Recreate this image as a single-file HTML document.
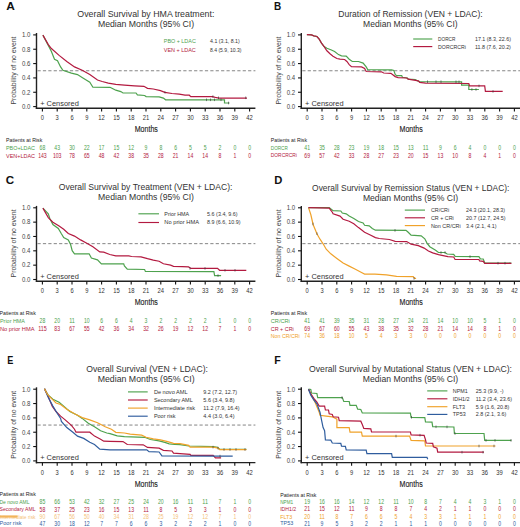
<!DOCTYPE html>
<html><head><meta charset="utf-8"><style>
html,body{margin:0;padding:0;background:#fff;width:520px;height:527px;overflow:hidden}
svg{display:block}
text{font-family:"Liberation Sans", sans-serif}
</style></head><body>
<svg width="520" height="527" viewBox="0 0 520 527">
<rect width="520" height="527" fill="#fff"/>
<text x="6.30" y="9.80" font-size="11.2" fill="#111" textLength="8.60" lengthAdjust="spacingAndGlyphs" font-weight="bold">A</text>
<text x="77.30" y="17.00" font-size="8.8" fill="#333333" textLength="137.10" lengthAdjust="spacingAndGlyphs">Overall Survival by HMA treatment:</text>
<text x="97.90" y="26.70" font-size="8.8" fill="#333333" textLength="96.30" lengthAdjust="spacingAndGlyphs">Median Months (95% CI)</text>
<line x1="36.50" y1="33.00" x2="36.50" y2="109.00" stroke="#222" stroke-width="1.4"/>
<line x1="35.80" y1="108.30" x2="255.40" y2="108.30" stroke="#222" stroke-width="1.4"/>
<line x1="33.20" y1="106.60" x2="36.50" y2="106.60" stroke="#111" stroke-width="1.1"/>
<text x="30.30" y="108.90" font-size="6.3" fill="#444" text-anchor="end" textLength="8.40" lengthAdjust="spacingAndGlyphs">0.0</text>
<line x1="33.20" y1="92.26" x2="36.50" y2="92.26" stroke="#111" stroke-width="1.1"/>
<text x="30.30" y="94.56" font-size="6.3" fill="#444" text-anchor="end" textLength="8.40" lengthAdjust="spacingAndGlyphs">0.2</text>
<line x1="33.20" y1="77.92" x2="36.50" y2="77.92" stroke="#111" stroke-width="1.1"/>
<text x="30.30" y="80.22" font-size="6.3" fill="#444" text-anchor="end" textLength="8.40" lengthAdjust="spacingAndGlyphs">0.4</text>
<line x1="33.20" y1="63.58" x2="36.50" y2="63.58" stroke="#111" stroke-width="1.1"/>
<text x="30.30" y="65.88" font-size="6.3" fill="#444" text-anchor="end" textLength="8.40" lengthAdjust="spacingAndGlyphs">0.6</text>
<line x1="33.20" y1="49.24" x2="36.50" y2="49.24" stroke="#111" stroke-width="1.1"/>
<text x="30.30" y="51.54" font-size="6.3" fill="#444" text-anchor="end" textLength="8.40" lengthAdjust="spacingAndGlyphs">0.8</text>
<line x1="33.20" y1="34.90" x2="36.50" y2="34.90" stroke="#111" stroke-width="1.1"/>
<text x="30.30" y="37.20" font-size="6.3" fill="#444" text-anchor="end" textLength="8.40" lengthAdjust="spacingAndGlyphs">1.0</text>
<line x1="42.40" y1="108.30" x2="42.40" y2="111.50" stroke="#111" stroke-width="1.1"/>
<text x="42.40" y="120.20" font-size="6.3" fill="#333" text-anchor="middle" textLength="3.20" lengthAdjust="spacingAndGlyphs">0</text>
<line x1="57.20" y1="108.30" x2="57.20" y2="111.50" stroke="#111" stroke-width="1.1"/>
<text x="57.20" y="120.20" font-size="6.3" fill="#333" text-anchor="middle" textLength="3.20" lengthAdjust="spacingAndGlyphs">3</text>
<line x1="72.00" y1="108.30" x2="72.00" y2="111.50" stroke="#111" stroke-width="1.1"/>
<text x="72.00" y="120.20" font-size="6.3" fill="#333" text-anchor="middle" textLength="3.20" lengthAdjust="spacingAndGlyphs">6</text>
<line x1="86.80" y1="108.30" x2="86.80" y2="111.50" stroke="#111" stroke-width="1.1"/>
<text x="86.80" y="120.20" font-size="6.3" fill="#333" text-anchor="middle" textLength="3.20" lengthAdjust="spacingAndGlyphs">9</text>
<line x1="101.60" y1="108.30" x2="101.60" y2="111.50" stroke="#111" stroke-width="1.1"/>
<text x="101.60" y="120.20" font-size="6.3" fill="#333" text-anchor="middle" textLength="6.50" lengthAdjust="spacingAndGlyphs">12</text>
<line x1="116.40" y1="108.30" x2="116.40" y2="111.50" stroke="#111" stroke-width="1.1"/>
<text x="116.40" y="120.20" font-size="6.3" fill="#333" text-anchor="middle" textLength="6.50" lengthAdjust="spacingAndGlyphs">15</text>
<line x1="131.20" y1="108.30" x2="131.20" y2="111.50" stroke="#111" stroke-width="1.1"/>
<text x="131.20" y="120.20" font-size="6.3" fill="#333" text-anchor="middle" textLength="6.50" lengthAdjust="spacingAndGlyphs">18</text>
<line x1="146.00" y1="108.30" x2="146.00" y2="111.50" stroke="#111" stroke-width="1.1"/>
<text x="146.00" y="120.20" font-size="6.3" fill="#333" text-anchor="middle" textLength="6.50" lengthAdjust="spacingAndGlyphs">21</text>
<line x1="160.80" y1="108.30" x2="160.80" y2="111.50" stroke="#111" stroke-width="1.1"/>
<text x="160.80" y="120.20" font-size="6.3" fill="#333" text-anchor="middle" textLength="6.50" lengthAdjust="spacingAndGlyphs">24</text>
<line x1="175.60" y1="108.30" x2="175.60" y2="111.50" stroke="#111" stroke-width="1.1"/>
<text x="175.60" y="120.20" font-size="6.3" fill="#333" text-anchor="middle" textLength="6.50" lengthAdjust="spacingAndGlyphs">27</text>
<line x1="190.40" y1="108.30" x2="190.40" y2="111.50" stroke="#111" stroke-width="1.1"/>
<text x="190.40" y="120.20" font-size="6.3" fill="#333" text-anchor="middle" textLength="6.50" lengthAdjust="spacingAndGlyphs">30</text>
<line x1="205.20" y1="108.30" x2="205.20" y2="111.50" stroke="#111" stroke-width="1.1"/>
<text x="205.20" y="120.20" font-size="6.3" fill="#333" text-anchor="middle" textLength="6.50" lengthAdjust="spacingAndGlyphs">33</text>
<line x1="220.00" y1="108.30" x2="220.00" y2="111.50" stroke="#111" stroke-width="1.1"/>
<text x="220.00" y="120.20" font-size="6.3" fill="#333" text-anchor="middle" textLength="6.50" lengthAdjust="spacingAndGlyphs">36</text>
<line x1="234.80" y1="108.30" x2="234.80" y2="111.50" stroke="#111" stroke-width="1.1"/>
<text x="234.80" y="120.20" font-size="6.3" fill="#333" text-anchor="middle" textLength="6.50" lengthAdjust="spacingAndGlyphs">39</text>
<line x1="249.60" y1="108.30" x2="249.60" y2="111.50" stroke="#111" stroke-width="1.1"/>
<text x="249.60" y="120.20" font-size="6.3" fill="#333" text-anchor="middle" textLength="6.50" lengthAdjust="spacingAndGlyphs">42</text>
<line x1="37.50" y1="70.75" x2="255.40" y2="70.75" stroke="#777" stroke-width="0.9" stroke-dasharray="3.2,2.2"/>
<text x="16.00" y="70.50" font-size="6.9" fill="#444" text-anchor="middle" textLength="68.00" lengthAdjust="spacingAndGlyphs" transform="rotate(-90 16.00 70.50)">Probability of no event</text>
<text x="146.30" y="132.30" font-size="8.4" fill="#222" text-anchor="middle" textLength="23.20" lengthAdjust="spacingAndGlyphs" stroke="#222" stroke-width="0.12">Months</text>
<text x="40.20" y="105.90" font-size="7.4" fill="#333" textLength="38.60" lengthAdjust="spacingAndGlyphs">+ Censored</text>
<text x="163.80" y="43.40" font-size="5.4" fill="#4ea24e" textLength="32.00" lengthAdjust="spacingAndGlyphs">PBO + LDAC</text>
<text x="210.00" y="43.40" font-size="5.4" fill="#333333" textLength="29.80" lengthAdjust="spacingAndGlyphs">4.1 (3.1, 8.1)</text>
<text x="163.80" y="51.60" font-size="5.4" fill="#b31a40" textLength="32.00" lengthAdjust="spacingAndGlyphs">VEN + LDAC</text>
<text x="210.00" y="51.60" font-size="5.4" fill="#333333" textLength="31.50" lengthAdjust="spacingAndGlyphs">8.4 (5.9, 10.3)</text>
<polyline points="42.90,35.10 48.30,45.40 51.40,51.50 54.50,59.20 57.50,60.80 60.60,66.90 62.90,70.30 71.40,73.10 77.50,74.60 83.70,78.50 89.80,82.30 92.90,87.20 110.00,87.30 112.90,88.70 115.80,90.20 120.80,91.60 123.00,93.00 136.00,93.00 137.40,94.90 144.60,95.50 146.10,96.60 159.10,96.90 163.40,98.10 165.60,99.80 224.50,99.80 224.50,103.00 229.50,103.00" fill="none" stroke="#4ea24e" stroke-width="1.2" stroke-linejoin="miter"/>
<polyline points="42.90,35.10 48.30,44.60 51.40,48.50 59.10,55.40 66.80,61.50 74.50,66.90 82.20,70.30 89.80,74.60 97.50,80.00 102.20,81.50 108.30,83.10 115.80,84.40 124.40,85.10 134.50,85.80 143.90,86.30 147.50,88.30 153.30,89.00 160.50,90.60 164.80,92.30 172.00,93.50 179.30,94.20 185.00,95.20 189.30,95.20 190.80,96.60 212.40,96.60 215.30,97.40 218.90,98.10 247.00,98.10" fill="none" stroke="#b31a40" stroke-width="1.2" stroke-linejoin="miter"/>
<line x1="165.00" y1="91.00" x2="165.00" y2="93.60" stroke="#333" stroke-width="0.8" stroke-opacity="0.75"/>
<line x1="212.90" y1="95.30" x2="212.90" y2="97.90" stroke="#333" stroke-width="0.8" stroke-opacity="0.75"/>
<line x1="218.50" y1="96.50" x2="218.50" y2="99.10" stroke="#333" stroke-width="0.8" stroke-opacity="0.75"/>
<line x1="245.70" y1="96.50" x2="245.70" y2="99.10" stroke="#333" stroke-width="0.8" stroke-opacity="0.75"/>
<line x1="206.50" y1="98.50" x2="206.50" y2="101.10" stroke="#333" stroke-width="0.8" stroke-opacity="0.75"/>
<line x1="210.50" y1="98.50" x2="210.50" y2="101.10" stroke="#333" stroke-width="0.8" stroke-opacity="0.75"/>
<line x1="214.50" y1="98.50" x2="214.50" y2="101.10" stroke="#333" stroke-width="0.8" stroke-opacity="0.75"/>
<line x1="221.00" y1="98.50" x2="221.00" y2="101.10" stroke="#333" stroke-width="0.8" stroke-opacity="0.75"/>
<line x1="228.50" y1="101.70" x2="228.50" y2="104.30" stroke="#333" stroke-width="0.8" stroke-opacity="0.75"/>
<text x="6.00" y="142.00" font-size="5.6" fill="#222" textLength="36.30" lengthAdjust="spacingAndGlyphs">Patients at Risk</text>
<text x="6.00" y="150.00" font-size="5.5" fill="#4ea24e" textLength="29.00" lengthAdjust="spacingAndGlyphs">PBO+LDAC</text>
<text x="42.40" y="150.20" font-size="6.3" fill="#4ea24e" text-anchor="middle" textLength="5.70" lengthAdjust="spacingAndGlyphs">68</text>
<text x="57.20" y="150.20" font-size="6.3" fill="#4ea24e" text-anchor="middle" textLength="5.70" lengthAdjust="spacingAndGlyphs">43</text>
<text x="72.00" y="150.20" font-size="6.3" fill="#4ea24e" text-anchor="middle" textLength="5.70" lengthAdjust="spacingAndGlyphs">30</text>
<text x="86.80" y="150.20" font-size="6.3" fill="#4ea24e" text-anchor="middle" textLength="5.70" lengthAdjust="spacingAndGlyphs">22</text>
<text x="101.60" y="150.20" font-size="6.3" fill="#4ea24e" text-anchor="middle" textLength="5.70" lengthAdjust="spacingAndGlyphs">17</text>
<text x="116.40" y="150.20" font-size="6.3" fill="#4ea24e" text-anchor="middle" textLength="5.70" lengthAdjust="spacingAndGlyphs">15</text>
<text x="131.20" y="150.20" font-size="6.3" fill="#4ea24e" text-anchor="middle" textLength="5.70" lengthAdjust="spacingAndGlyphs">12</text>
<text x="146.00" y="150.20" font-size="6.3" fill="#4ea24e" text-anchor="middle" textLength="2.85" lengthAdjust="spacingAndGlyphs">9</text>
<text x="160.80" y="150.20" font-size="6.3" fill="#4ea24e" text-anchor="middle" textLength="2.85" lengthAdjust="spacingAndGlyphs">8</text>
<text x="175.60" y="150.20" font-size="6.3" fill="#4ea24e" text-anchor="middle" textLength="2.85" lengthAdjust="spacingAndGlyphs">6</text>
<text x="190.40" y="150.20" font-size="6.3" fill="#4ea24e" text-anchor="middle" textLength="2.85" lengthAdjust="spacingAndGlyphs">5</text>
<text x="205.20" y="150.20" font-size="6.3" fill="#4ea24e" text-anchor="middle" textLength="2.85" lengthAdjust="spacingAndGlyphs">5</text>
<text x="220.00" y="150.20" font-size="6.3" fill="#4ea24e" text-anchor="middle" textLength="2.85" lengthAdjust="spacingAndGlyphs">2</text>
<text x="234.80" y="150.20" font-size="6.3" fill="#4ea24e" text-anchor="middle" textLength="2.85" lengthAdjust="spacingAndGlyphs">0</text>
<text x="249.60" y="150.20" font-size="6.3" fill="#4ea24e" text-anchor="middle" textLength="2.85" lengthAdjust="spacingAndGlyphs">0</text>
<text x="6.00" y="157.50" font-size="5.5" fill="#b31a40" textLength="29.00" lengthAdjust="spacingAndGlyphs">VEN+LDAC</text>
<text x="42.40" y="157.70" font-size="6.3" fill="#b31a40" text-anchor="middle" textLength="8.55" lengthAdjust="spacingAndGlyphs">143</text>
<text x="57.20" y="157.70" font-size="6.3" fill="#b31a40" text-anchor="middle" textLength="8.55" lengthAdjust="spacingAndGlyphs">103</text>
<text x="72.00" y="157.70" font-size="6.3" fill="#b31a40" text-anchor="middle" textLength="5.70" lengthAdjust="spacingAndGlyphs">78</text>
<text x="86.80" y="157.70" font-size="6.3" fill="#b31a40" text-anchor="middle" textLength="5.70" lengthAdjust="spacingAndGlyphs">65</text>
<text x="101.60" y="157.70" font-size="6.3" fill="#b31a40" text-anchor="middle" textLength="5.70" lengthAdjust="spacingAndGlyphs">48</text>
<text x="116.40" y="157.70" font-size="6.3" fill="#b31a40" text-anchor="middle" textLength="5.70" lengthAdjust="spacingAndGlyphs">42</text>
<text x="131.20" y="157.70" font-size="6.3" fill="#b31a40" text-anchor="middle" textLength="5.70" lengthAdjust="spacingAndGlyphs">38</text>
<text x="146.00" y="157.70" font-size="6.3" fill="#b31a40" text-anchor="middle" textLength="5.70" lengthAdjust="spacingAndGlyphs">35</text>
<text x="160.80" y="157.70" font-size="6.3" fill="#b31a40" text-anchor="middle" textLength="5.70" lengthAdjust="spacingAndGlyphs">28</text>
<text x="175.60" y="157.70" font-size="6.3" fill="#b31a40" text-anchor="middle" textLength="5.70" lengthAdjust="spacingAndGlyphs">21</text>
<text x="190.40" y="157.70" font-size="6.3" fill="#b31a40" text-anchor="middle" textLength="5.70" lengthAdjust="spacingAndGlyphs">14</text>
<text x="205.20" y="157.70" font-size="6.3" fill="#b31a40" text-anchor="middle" textLength="5.70" lengthAdjust="spacingAndGlyphs">14</text>
<text x="220.00" y="157.70" font-size="6.3" fill="#b31a40" text-anchor="middle" textLength="2.85" lengthAdjust="spacingAndGlyphs">8</text>
<text x="234.80" y="157.70" font-size="6.3" fill="#b31a40" text-anchor="middle" textLength="2.85" lengthAdjust="spacingAndGlyphs">1</text>
<text x="249.60" y="157.70" font-size="6.3" fill="#b31a40" text-anchor="middle" textLength="2.85" lengthAdjust="spacingAndGlyphs">0</text>
<text x="274.10" y="9.80" font-size="11.2" fill="#111" textLength="7.20" lengthAdjust="spacingAndGlyphs" font-weight="bold">B</text>
<text x="338.30" y="17.30" font-size="8.8" fill="#333333" textLength="144.40" lengthAdjust="spacingAndGlyphs">Duration of Remission (VEN + LDAC):</text>
<text x="363.10" y="27.10" font-size="8.8" fill="#333333" textLength="94.60" lengthAdjust="spacingAndGlyphs">Median Months (95% CI)</text>
<line x1="301.30" y1="33.00" x2="301.30" y2="109.00" stroke="#222" stroke-width="1.4"/>
<line x1="300.60" y1="108.30" x2="520.00" y2="108.30" stroke="#222" stroke-width="1.4"/>
<line x1="298.00" y1="106.60" x2="301.30" y2="106.60" stroke="#111" stroke-width="1.1"/>
<text x="295.10" y="108.90" font-size="6.3" fill="#444" text-anchor="end" textLength="8.40" lengthAdjust="spacingAndGlyphs">0.0</text>
<line x1="298.00" y1="92.26" x2="301.30" y2="92.26" stroke="#111" stroke-width="1.1"/>
<text x="295.10" y="94.56" font-size="6.3" fill="#444" text-anchor="end" textLength="8.40" lengthAdjust="spacingAndGlyphs">0.2</text>
<line x1="298.00" y1="77.92" x2="301.30" y2="77.92" stroke="#111" stroke-width="1.1"/>
<text x="295.10" y="80.22" font-size="6.3" fill="#444" text-anchor="end" textLength="8.40" lengthAdjust="spacingAndGlyphs">0.4</text>
<line x1="298.00" y1="63.58" x2="301.30" y2="63.58" stroke="#111" stroke-width="1.1"/>
<text x="295.10" y="65.88" font-size="6.3" fill="#444" text-anchor="end" textLength="8.40" lengthAdjust="spacingAndGlyphs">0.6</text>
<line x1="298.00" y1="49.24" x2="301.30" y2="49.24" stroke="#111" stroke-width="1.1"/>
<text x="295.10" y="51.54" font-size="6.3" fill="#444" text-anchor="end" textLength="8.40" lengthAdjust="spacingAndGlyphs">0.8</text>
<line x1="298.00" y1="34.90" x2="301.30" y2="34.90" stroke="#111" stroke-width="1.1"/>
<text x="295.10" y="37.20" font-size="6.3" fill="#444" text-anchor="end" textLength="8.40" lengthAdjust="spacingAndGlyphs">1.0</text>
<line x1="307.20" y1="108.30" x2="307.20" y2="111.50" stroke="#111" stroke-width="1.1"/>
<text x="307.20" y="120.20" font-size="6.3" fill="#333" text-anchor="middle" textLength="3.20" lengthAdjust="spacingAndGlyphs">0</text>
<line x1="322.00" y1="108.30" x2="322.00" y2="111.50" stroke="#111" stroke-width="1.1"/>
<text x="322.00" y="120.20" font-size="6.3" fill="#333" text-anchor="middle" textLength="3.20" lengthAdjust="spacingAndGlyphs">3</text>
<line x1="336.80" y1="108.30" x2="336.80" y2="111.50" stroke="#111" stroke-width="1.1"/>
<text x="336.80" y="120.20" font-size="6.3" fill="#333" text-anchor="middle" textLength="3.20" lengthAdjust="spacingAndGlyphs">6</text>
<line x1="351.60" y1="108.30" x2="351.60" y2="111.50" stroke="#111" stroke-width="1.1"/>
<text x="351.60" y="120.20" font-size="6.3" fill="#333" text-anchor="middle" textLength="3.20" lengthAdjust="spacingAndGlyphs">9</text>
<line x1="366.40" y1="108.30" x2="366.40" y2="111.50" stroke="#111" stroke-width="1.1"/>
<text x="366.40" y="120.20" font-size="6.3" fill="#333" text-anchor="middle" textLength="6.50" lengthAdjust="spacingAndGlyphs">12</text>
<line x1="381.20" y1="108.30" x2="381.20" y2="111.50" stroke="#111" stroke-width="1.1"/>
<text x="381.20" y="120.20" font-size="6.3" fill="#333" text-anchor="middle" textLength="6.50" lengthAdjust="spacingAndGlyphs">15</text>
<line x1="396.00" y1="108.30" x2="396.00" y2="111.50" stroke="#111" stroke-width="1.1"/>
<text x="396.00" y="120.20" font-size="6.3" fill="#333" text-anchor="middle" textLength="6.50" lengthAdjust="spacingAndGlyphs">18</text>
<line x1="410.80" y1="108.30" x2="410.80" y2="111.50" stroke="#111" stroke-width="1.1"/>
<text x="410.80" y="120.20" font-size="6.3" fill="#333" text-anchor="middle" textLength="6.50" lengthAdjust="spacingAndGlyphs">21</text>
<line x1="425.60" y1="108.30" x2="425.60" y2="111.50" stroke="#111" stroke-width="1.1"/>
<text x="425.60" y="120.20" font-size="6.3" fill="#333" text-anchor="middle" textLength="6.50" lengthAdjust="spacingAndGlyphs">24</text>
<line x1="440.40" y1="108.30" x2="440.40" y2="111.50" stroke="#111" stroke-width="1.1"/>
<text x="440.40" y="120.20" font-size="6.3" fill="#333" text-anchor="middle" textLength="6.50" lengthAdjust="spacingAndGlyphs">27</text>
<line x1="455.20" y1="108.30" x2="455.20" y2="111.50" stroke="#111" stroke-width="1.1"/>
<text x="455.20" y="120.20" font-size="6.3" fill="#333" text-anchor="middle" textLength="6.50" lengthAdjust="spacingAndGlyphs">30</text>
<line x1="470.00" y1="108.30" x2="470.00" y2="111.50" stroke="#111" stroke-width="1.1"/>
<text x="470.00" y="120.20" font-size="6.3" fill="#333" text-anchor="middle" textLength="6.50" lengthAdjust="spacingAndGlyphs">33</text>
<line x1="484.80" y1="108.30" x2="484.80" y2="111.50" stroke="#111" stroke-width="1.1"/>
<text x="484.80" y="120.20" font-size="6.3" fill="#333" text-anchor="middle" textLength="6.50" lengthAdjust="spacingAndGlyphs">36</text>
<line x1="499.60" y1="108.30" x2="499.60" y2="111.50" stroke="#111" stroke-width="1.1"/>
<text x="499.60" y="120.20" font-size="6.3" fill="#333" text-anchor="middle" textLength="6.50" lengthAdjust="spacingAndGlyphs">39</text>
<line x1="514.40" y1="108.30" x2="514.40" y2="111.50" stroke="#111" stroke-width="1.1"/>
<text x="514.40" y="120.20" font-size="6.3" fill="#333" text-anchor="middle" textLength="6.50" lengthAdjust="spacingAndGlyphs">42</text>
<line x1="302.30" y1="70.75" x2="520.00" y2="70.75" stroke="#777" stroke-width="0.9" stroke-dasharray="3.2,2.2"/>
<text x="280.80" y="70.50" font-size="6.9" fill="#444" text-anchor="middle" textLength="68.00" lengthAdjust="spacingAndGlyphs" transform="rotate(-90 280.80 70.50)">Probability of no event</text>
<text x="411.10" y="132.30" font-size="8.4" fill="#222" text-anchor="middle" textLength="23.20" lengthAdjust="spacingAndGlyphs" stroke="#222" stroke-width="0.12">Months</text>
<text x="305.00" y="105.90" font-size="7.4" fill="#333" textLength="38.60" lengthAdjust="spacingAndGlyphs">+ Censored</text>
<line x1="413.20" y1="39.00" x2="432.30" y2="39.00" stroke="#4ea24e" stroke-width="1.15"/>
<text x="438.10" y="40.90" font-size="5.4" fill="#333333" textLength="17.30" lengthAdjust="spacingAndGlyphs">DORCR</text>
<text x="475.00" y="40.90" font-size="5.4" fill="#333333" textLength="35.90" lengthAdjust="spacingAndGlyphs">17.1 (8.3, 22.6)</text>
<line x1="413.20" y1="46.60" x2="432.30" y2="46.60" stroke="#b31a40" stroke-width="1.15"/>
<text x="438.10" y="48.50" font-size="5.4" fill="#333333" textLength="27.70" lengthAdjust="spacingAndGlyphs">DORCRCRi</text>
<text x="475.00" y="48.50" font-size="5.4" fill="#333333" textLength="35.90" lengthAdjust="spacingAndGlyphs">11.8 (7.6, 20.2)</text>
<polyline points="306.90,34.60 311.50,34.90 313.80,35.80 316.90,36.50 319.20,39.20 321.50,43.10 323.80,46.20 326.90,48.20 330.80,49.70 334.60,51.50 338.50,54.60 341.50,55.80 346.20,56.20 349.20,59.20 352.30,61.50 358.50,61.50 363.10,63.10 366.20,66.90 367.70,69.60 391.60,69.80 393.80,70.40 395.20,74.40 396.60,75.60 401.70,75.60 402.40,77.30 407.50,78.00 408.20,79.20 415.40,79.50 417.60,80.90 419.70,81.60 461.60,81.80 461.60,85.20 468.80,85.20 468.80,89.50 478.90,89.50" fill="none" stroke="#4ea24e" stroke-width="1.2" stroke-linejoin="miter"/>
<polyline points="306.90,34.60 311.50,34.90 313.80,35.80 316.90,36.50 319.20,39.20 321.50,43.10 323.80,46.20 326.90,50.80 330.00,53.80 333.00,56.20 336.90,58.50 340.00,59.20 344.60,59.50 346.90,61.50 349.20,64.60 351.50,66.60 361.50,66.90 364.60,68.50 366.20,71.50 381.50,71.80 383.70,73.00 390.90,73.30 395.20,76.60 398.10,77.60 406.70,78.00 408.20,79.20 414.00,80.20 418.30,80.90 419.70,82.40 425.50,83.10 468.80,83.50 469.50,85.90 484.70,85.90 485.40,91.40 502.70,91.40" fill="none" stroke="#b31a40" stroke-width="1.2" stroke-linejoin="miter"/>
<line x1="427.50" y1="80.40" x2="427.50" y2="83.00" stroke="#333" stroke-width="0.8" stroke-opacity="0.75"/>
<line x1="436.00" y1="80.40" x2="436.00" y2="83.00" stroke="#333" stroke-width="0.8" stroke-opacity="0.75"/>
<line x1="441.00" y1="80.40" x2="441.00" y2="83.00" stroke="#333" stroke-width="0.8" stroke-opacity="0.75"/>
<line x1="456.00" y1="80.50" x2="456.00" y2="83.10" stroke="#333" stroke-width="0.8" stroke-opacity="0.75"/>
<line x1="459.00" y1="80.50" x2="459.00" y2="83.10" stroke="#333" stroke-width="0.8" stroke-opacity="0.75"/>
<line x1="471.90" y1="88.20" x2="471.90" y2="90.80" stroke="#333" stroke-width="0.8" stroke-opacity="0.75"/>
<line x1="476.00" y1="88.20" x2="476.00" y2="90.80" stroke="#333" stroke-width="0.8" stroke-opacity="0.75"/>
<line x1="479.00" y1="84.60" x2="479.00" y2="87.20" stroke="#333" stroke-width="0.8" stroke-opacity="0.75"/>
<line x1="493.00" y1="90.10" x2="493.00" y2="92.70" stroke="#333" stroke-width="0.8" stroke-opacity="0.75"/>
<text x="270.80" y="142.30" font-size="5.6" fill="#222" textLength="36.30" lengthAdjust="spacingAndGlyphs">Patients at Risk</text>
<text x="270.80" y="149.80" font-size="5.5" fill="#4ea24e" textLength="17.00" lengthAdjust="spacingAndGlyphs">DORCR</text>
<text x="307.20" y="150.00" font-size="6.3" fill="#4ea24e" text-anchor="middle" textLength="5.70" lengthAdjust="spacingAndGlyphs">41</text>
<text x="322.00" y="150.00" font-size="6.3" fill="#4ea24e" text-anchor="middle" textLength="5.70" lengthAdjust="spacingAndGlyphs">35</text>
<text x="336.80" y="150.00" font-size="6.3" fill="#4ea24e" text-anchor="middle" textLength="5.70" lengthAdjust="spacingAndGlyphs">28</text>
<text x="351.60" y="150.00" font-size="6.3" fill="#4ea24e" text-anchor="middle" textLength="5.70" lengthAdjust="spacingAndGlyphs">23</text>
<text x="366.40" y="150.00" font-size="6.3" fill="#4ea24e" text-anchor="middle" textLength="5.70" lengthAdjust="spacingAndGlyphs">19</text>
<text x="381.20" y="150.00" font-size="6.3" fill="#4ea24e" text-anchor="middle" textLength="5.70" lengthAdjust="spacingAndGlyphs">18</text>
<text x="396.00" y="150.00" font-size="6.3" fill="#4ea24e" text-anchor="middle" textLength="5.70" lengthAdjust="spacingAndGlyphs">15</text>
<text x="410.80" y="150.00" font-size="6.3" fill="#4ea24e" text-anchor="middle" textLength="5.70" lengthAdjust="spacingAndGlyphs">13</text>
<text x="425.60" y="150.00" font-size="6.3" fill="#4ea24e" text-anchor="middle" textLength="5.70" lengthAdjust="spacingAndGlyphs">11</text>
<text x="440.40" y="150.00" font-size="6.3" fill="#4ea24e" text-anchor="middle" textLength="2.85" lengthAdjust="spacingAndGlyphs">9</text>
<text x="455.20" y="150.00" font-size="6.3" fill="#4ea24e" text-anchor="middle" textLength="2.85" lengthAdjust="spacingAndGlyphs">6</text>
<text x="470.00" y="150.00" font-size="6.3" fill="#4ea24e" text-anchor="middle" textLength="2.85" lengthAdjust="spacingAndGlyphs">4</text>
<text x="484.80" y="150.00" font-size="6.3" fill="#4ea24e" text-anchor="middle" textLength="2.85" lengthAdjust="spacingAndGlyphs">0</text>
<text x="499.60" y="150.00" font-size="6.3" fill="#4ea24e" text-anchor="middle" textLength="2.85" lengthAdjust="spacingAndGlyphs">0</text>
<text x="514.40" y="150.00" font-size="6.3" fill="#4ea24e" text-anchor="middle" textLength="2.85" lengthAdjust="spacingAndGlyphs">0</text>
<text x="270.80" y="157.40" font-size="5.5" fill="#b31a40" textLength="26.00" lengthAdjust="spacingAndGlyphs">DORCRCRi</text>
<text x="307.20" y="157.60" font-size="6.3" fill="#b31a40" text-anchor="middle" textLength="5.70" lengthAdjust="spacingAndGlyphs">69</text>
<text x="322.00" y="157.60" font-size="6.3" fill="#b31a40" text-anchor="middle" textLength="5.70" lengthAdjust="spacingAndGlyphs">57</text>
<text x="336.80" y="157.60" font-size="6.3" fill="#b31a40" text-anchor="middle" textLength="5.70" lengthAdjust="spacingAndGlyphs">42</text>
<text x="351.60" y="157.60" font-size="6.3" fill="#b31a40" text-anchor="middle" textLength="5.70" lengthAdjust="spacingAndGlyphs">33</text>
<text x="366.40" y="157.60" font-size="6.3" fill="#b31a40" text-anchor="middle" textLength="5.70" lengthAdjust="spacingAndGlyphs">28</text>
<text x="381.20" y="157.60" font-size="6.3" fill="#b31a40" text-anchor="middle" textLength="5.70" lengthAdjust="spacingAndGlyphs">27</text>
<text x="396.00" y="157.60" font-size="6.3" fill="#b31a40" text-anchor="middle" textLength="5.70" lengthAdjust="spacingAndGlyphs">23</text>
<text x="410.80" y="157.60" font-size="6.3" fill="#b31a40" text-anchor="middle" textLength="5.70" lengthAdjust="spacingAndGlyphs">20</text>
<text x="425.60" y="157.60" font-size="6.3" fill="#b31a40" text-anchor="middle" textLength="5.70" lengthAdjust="spacingAndGlyphs">15</text>
<text x="440.40" y="157.60" font-size="6.3" fill="#b31a40" text-anchor="middle" textLength="5.70" lengthAdjust="spacingAndGlyphs">13</text>
<text x="455.20" y="157.60" font-size="6.3" fill="#b31a40" text-anchor="middle" textLength="5.70" lengthAdjust="spacingAndGlyphs">10</text>
<text x="470.00" y="157.60" font-size="6.3" fill="#b31a40" text-anchor="middle" textLength="2.85" lengthAdjust="spacingAndGlyphs">8</text>
<text x="484.80" y="157.60" font-size="6.3" fill="#b31a40" text-anchor="middle" textLength="2.85" lengthAdjust="spacingAndGlyphs">4</text>
<text x="499.60" y="157.60" font-size="6.3" fill="#b31a40" text-anchor="middle" textLength="2.85" lengthAdjust="spacingAndGlyphs">1</text>
<text x="514.40" y="157.60" font-size="6.3" fill="#b31a40" text-anchor="middle" textLength="2.85" lengthAdjust="spacingAndGlyphs">0</text>
<text x="5.70" y="184.10" font-size="11.2" fill="#111" textLength="8.40" lengthAdjust="spacingAndGlyphs" font-weight="bold">C</text>
<text x="58.70" y="190.20" font-size="8.8" fill="#333333" textLength="173.80" lengthAdjust="spacingAndGlyphs">Overall Survival by Treatment (VEN + LDAC):</text>
<text x="98.10" y="200.10" font-size="8.8" fill="#333333" textLength="95.90" lengthAdjust="spacingAndGlyphs">Median Months (95% CI)</text>
<line x1="36.50" y1="205.90" x2="36.50" y2="281.90" stroke="#222" stroke-width="1.4"/>
<line x1="35.80" y1="281.20" x2="255.40" y2="281.20" stroke="#222" stroke-width="1.4"/>
<line x1="33.20" y1="279.50" x2="36.50" y2="279.50" stroke="#111" stroke-width="1.1"/>
<text x="30.30" y="281.80" font-size="6.3" fill="#444" text-anchor="end" textLength="8.40" lengthAdjust="spacingAndGlyphs">0.0</text>
<line x1="33.20" y1="265.16" x2="36.50" y2="265.16" stroke="#111" stroke-width="1.1"/>
<text x="30.30" y="267.46" font-size="6.3" fill="#444" text-anchor="end" textLength="8.40" lengthAdjust="spacingAndGlyphs">0.2</text>
<line x1="33.20" y1="250.82" x2="36.50" y2="250.82" stroke="#111" stroke-width="1.1"/>
<text x="30.30" y="253.12" font-size="6.3" fill="#444" text-anchor="end" textLength="8.40" lengthAdjust="spacingAndGlyphs">0.4</text>
<line x1="33.20" y1="236.48" x2="36.50" y2="236.48" stroke="#111" stroke-width="1.1"/>
<text x="30.30" y="238.78" font-size="6.3" fill="#444" text-anchor="end" textLength="8.40" lengthAdjust="spacingAndGlyphs">0.6</text>
<line x1="33.20" y1="222.14" x2="36.50" y2="222.14" stroke="#111" stroke-width="1.1"/>
<text x="30.30" y="224.44" font-size="6.3" fill="#444" text-anchor="end" textLength="8.40" lengthAdjust="spacingAndGlyphs">0.8</text>
<line x1="33.20" y1="207.80" x2="36.50" y2="207.80" stroke="#111" stroke-width="1.1"/>
<text x="30.30" y="210.10" font-size="6.3" fill="#444" text-anchor="end" textLength="8.40" lengthAdjust="spacingAndGlyphs">1.0</text>
<line x1="42.40" y1="281.20" x2="42.40" y2="284.40" stroke="#111" stroke-width="1.1"/>
<text x="42.40" y="293.10" font-size="6.3" fill="#333" text-anchor="middle" textLength="3.20" lengthAdjust="spacingAndGlyphs">0</text>
<line x1="57.20" y1="281.20" x2="57.20" y2="284.40" stroke="#111" stroke-width="1.1"/>
<text x="57.20" y="293.10" font-size="6.3" fill="#333" text-anchor="middle" textLength="3.20" lengthAdjust="spacingAndGlyphs">3</text>
<line x1="72.00" y1="281.20" x2="72.00" y2="284.40" stroke="#111" stroke-width="1.1"/>
<text x="72.00" y="293.10" font-size="6.3" fill="#333" text-anchor="middle" textLength="3.20" lengthAdjust="spacingAndGlyphs">6</text>
<line x1="86.80" y1="281.20" x2="86.80" y2="284.40" stroke="#111" stroke-width="1.1"/>
<text x="86.80" y="293.10" font-size="6.3" fill="#333" text-anchor="middle" textLength="3.20" lengthAdjust="spacingAndGlyphs">9</text>
<line x1="101.60" y1="281.20" x2="101.60" y2="284.40" stroke="#111" stroke-width="1.1"/>
<text x="101.60" y="293.10" font-size="6.3" fill="#333" text-anchor="middle" textLength="6.50" lengthAdjust="spacingAndGlyphs">12</text>
<line x1="116.40" y1="281.20" x2="116.40" y2="284.40" stroke="#111" stroke-width="1.1"/>
<text x="116.40" y="293.10" font-size="6.3" fill="#333" text-anchor="middle" textLength="6.50" lengthAdjust="spacingAndGlyphs">15</text>
<line x1="131.20" y1="281.20" x2="131.20" y2="284.40" stroke="#111" stroke-width="1.1"/>
<text x="131.20" y="293.10" font-size="6.3" fill="#333" text-anchor="middle" textLength="6.50" lengthAdjust="spacingAndGlyphs">18</text>
<line x1="146.00" y1="281.20" x2="146.00" y2="284.40" stroke="#111" stroke-width="1.1"/>
<text x="146.00" y="293.10" font-size="6.3" fill="#333" text-anchor="middle" textLength="6.50" lengthAdjust="spacingAndGlyphs">21</text>
<line x1="160.80" y1="281.20" x2="160.80" y2="284.40" stroke="#111" stroke-width="1.1"/>
<text x="160.80" y="293.10" font-size="6.3" fill="#333" text-anchor="middle" textLength="6.50" lengthAdjust="spacingAndGlyphs">24</text>
<line x1="175.60" y1="281.20" x2="175.60" y2="284.40" stroke="#111" stroke-width="1.1"/>
<text x="175.60" y="293.10" font-size="6.3" fill="#333" text-anchor="middle" textLength="6.50" lengthAdjust="spacingAndGlyphs">27</text>
<line x1="190.40" y1="281.20" x2="190.40" y2="284.40" stroke="#111" stroke-width="1.1"/>
<text x="190.40" y="293.10" font-size="6.3" fill="#333" text-anchor="middle" textLength="6.50" lengthAdjust="spacingAndGlyphs">30</text>
<line x1="205.20" y1="281.20" x2="205.20" y2="284.40" stroke="#111" stroke-width="1.1"/>
<text x="205.20" y="293.10" font-size="6.3" fill="#333" text-anchor="middle" textLength="6.50" lengthAdjust="spacingAndGlyphs">33</text>
<line x1="220.00" y1="281.20" x2="220.00" y2="284.40" stroke="#111" stroke-width="1.1"/>
<text x="220.00" y="293.10" font-size="6.3" fill="#333" text-anchor="middle" textLength="6.50" lengthAdjust="spacingAndGlyphs">36</text>
<line x1="234.80" y1="281.20" x2="234.80" y2="284.40" stroke="#111" stroke-width="1.1"/>
<text x="234.80" y="293.10" font-size="6.3" fill="#333" text-anchor="middle" textLength="6.50" lengthAdjust="spacingAndGlyphs">39</text>
<line x1="249.60" y1="281.20" x2="249.60" y2="284.40" stroke="#111" stroke-width="1.1"/>
<text x="249.60" y="293.10" font-size="6.3" fill="#333" text-anchor="middle" textLength="6.50" lengthAdjust="spacingAndGlyphs">42</text>
<line x1="37.50" y1="243.65" x2="255.40" y2="243.65" stroke="#777" stroke-width="0.9" stroke-dasharray="3.2,2.2"/>
<text x="16.00" y="243.40" font-size="6.9" fill="#444" text-anchor="middle" textLength="68.00" lengthAdjust="spacingAndGlyphs" transform="rotate(-90 16.00 243.40)">Probability of no event</text>
<text x="146.30" y="305.20" font-size="8.4" fill="#222" text-anchor="middle" textLength="23.20" lengthAdjust="spacingAndGlyphs" stroke="#222" stroke-width="0.12">Months</text>
<text x="40.20" y="278.80" font-size="7.4" fill="#333" textLength="38.60" lengthAdjust="spacingAndGlyphs">+ Censored</text>
<line x1="138.40" y1="213.80" x2="159.00" y2="213.80" stroke="#4ea24e" stroke-width="1.15"/>
<text x="164.30" y="215.70" font-size="5.4" fill="#333333">Prior HMA</text>
<text x="207.10" y="215.70" font-size="5.4" fill="#333333">5.6 (3.4, 9.6)</text>
<line x1="138.40" y1="222.50" x2="159.00" y2="222.50" stroke="#b31a40" stroke-width="1.15"/>
<text x="164.30" y="224.40" font-size="5.4" fill="#333333" textLength="34.70" lengthAdjust="spacingAndGlyphs">No prior HMA</text>
<text x="207.10" y="224.40" font-size="5.4" fill="#333333" textLength="33.40" lengthAdjust="spacingAndGlyphs">8.9 (6.6, 10.9)</text>
<polyline points="42.90,208.10 48.30,213.80 49.80,218.40 52.90,224.50 58.30,228.40 61.40,233.80 63.70,237.60 68.30,239.90 70.60,244.50 72.20,250.70 74.50,253.80 89.10,253.80 91.40,258.10 97.50,259.90 101.40,263.80 123.70,263.80 124.40,265.90 127.30,269.20 144.60,269.50 145.40,271.40 213.90,271.70 214.60,275.60 221.10,275.60" fill="none" stroke="#4ea24e" stroke-width="1.2" stroke-linejoin="miter"/>
<polyline points="42.90,208.10 48.30,217.60 52.90,222.20 59.10,226.10 63.70,229.20 68.30,233.50 74.50,236.10 80.60,239.90 86.80,243.30 92.90,246.80 99.80,251.90 103.70,252.20 109.80,254.50 115.80,255.80 128.80,255.80 131.60,256.50 141.00,256.80 147.50,258.70 153.30,260.20 159.10,261.20 163.40,263.80 170.60,265.20 173.50,266.40 182.20,266.60 188.60,266.90 190.80,268.40 217.50,268.40 219.60,270.30 246.30,270.30" fill="none" stroke="#b31a40" stroke-width="1.2" stroke-linejoin="miter"/>
<line x1="190.00" y1="267.10" x2="190.00" y2="269.70" stroke="#333" stroke-width="0.8" stroke-opacity="0.75"/>
<line x1="205.00" y1="267.10" x2="205.00" y2="269.70" stroke="#333" stroke-width="0.8" stroke-opacity="0.75"/>
<line x1="225.00" y1="269.00" x2="225.00" y2="271.60" stroke="#333" stroke-width="0.8" stroke-opacity="0.75"/>
<line x1="235.00" y1="269.00" x2="235.00" y2="271.60" stroke="#333" stroke-width="0.8" stroke-opacity="0.75"/>
<line x1="218.00" y1="274.30" x2="218.00" y2="276.90" stroke="#333" stroke-width="0.8" stroke-opacity="0.75"/>
<text x="-0.50" y="315.30" font-size="5.6" fill="#222" textLength="36.30" lengthAdjust="spacingAndGlyphs">Patients at Risk</text>
<text x="0.00" y="323.20" font-size="5.5" fill="#4ea24e" textLength="25.00" lengthAdjust="spacingAndGlyphs">Prior HMA</text>
<text x="42.40" y="323.40" font-size="6.3" fill="#4ea24e" text-anchor="middle" textLength="5.70" lengthAdjust="spacingAndGlyphs">28</text>
<text x="57.20" y="323.40" font-size="6.3" fill="#4ea24e" text-anchor="middle" textLength="5.70" lengthAdjust="spacingAndGlyphs">20</text>
<text x="72.00" y="323.40" font-size="6.3" fill="#4ea24e" text-anchor="middle" textLength="5.70" lengthAdjust="spacingAndGlyphs">11</text>
<text x="86.80" y="323.40" font-size="6.3" fill="#4ea24e" text-anchor="middle" textLength="5.70" lengthAdjust="spacingAndGlyphs">10</text>
<text x="101.60" y="323.40" font-size="6.3" fill="#4ea24e" text-anchor="middle" textLength="2.85" lengthAdjust="spacingAndGlyphs">6</text>
<text x="116.40" y="323.40" font-size="6.3" fill="#4ea24e" text-anchor="middle" textLength="2.85" lengthAdjust="spacingAndGlyphs">6</text>
<text x="131.20" y="323.40" font-size="6.3" fill="#4ea24e" text-anchor="middle" textLength="2.85" lengthAdjust="spacingAndGlyphs">4</text>
<text x="146.00" y="323.40" font-size="6.3" fill="#4ea24e" text-anchor="middle" textLength="2.85" lengthAdjust="spacingAndGlyphs">3</text>
<text x="160.80" y="323.40" font-size="6.3" fill="#4ea24e" text-anchor="middle" textLength="2.85" lengthAdjust="spacingAndGlyphs">2</text>
<text x="175.60" y="323.40" font-size="6.3" fill="#4ea24e" text-anchor="middle" textLength="2.85" lengthAdjust="spacingAndGlyphs">2</text>
<text x="190.40" y="323.40" font-size="6.3" fill="#4ea24e" text-anchor="middle" textLength="2.85" lengthAdjust="spacingAndGlyphs">2</text>
<text x="205.20" y="323.40" font-size="6.3" fill="#4ea24e" text-anchor="middle" textLength="2.85" lengthAdjust="spacingAndGlyphs">2</text>
<text x="220.00" y="323.40" font-size="6.3" fill="#4ea24e" text-anchor="middle" textLength="2.85" lengthAdjust="spacingAndGlyphs">1</text>
<text x="234.80" y="323.40" font-size="6.3" fill="#4ea24e" text-anchor="middle" textLength="2.85" lengthAdjust="spacingAndGlyphs">0</text>
<text x="249.60" y="323.40" font-size="6.3" fill="#4ea24e" text-anchor="middle" textLength="2.85" lengthAdjust="spacingAndGlyphs">0</text>
<text x="0.00" y="330.90" font-size="5.5" fill="#b31a40" textLength="34.50" lengthAdjust="spacingAndGlyphs">No prior HMA</text>
<text x="42.40" y="331.10" font-size="6.3" fill="#b31a40" text-anchor="middle" textLength="8.55" lengthAdjust="spacingAndGlyphs">115</text>
<text x="57.20" y="331.10" font-size="6.3" fill="#b31a40" text-anchor="middle" textLength="5.70" lengthAdjust="spacingAndGlyphs">83</text>
<text x="72.00" y="331.10" font-size="6.3" fill="#b31a40" text-anchor="middle" textLength="5.70" lengthAdjust="spacingAndGlyphs">67</text>
<text x="86.80" y="331.10" font-size="6.3" fill="#b31a40" text-anchor="middle" textLength="5.70" lengthAdjust="spacingAndGlyphs">55</text>
<text x="101.60" y="331.10" font-size="6.3" fill="#b31a40" text-anchor="middle" textLength="5.70" lengthAdjust="spacingAndGlyphs">42</text>
<text x="116.40" y="331.10" font-size="6.3" fill="#b31a40" text-anchor="middle" textLength="5.70" lengthAdjust="spacingAndGlyphs">36</text>
<text x="131.20" y="331.10" font-size="6.3" fill="#b31a40" text-anchor="middle" textLength="5.70" lengthAdjust="spacingAndGlyphs">34</text>
<text x="146.00" y="331.10" font-size="6.3" fill="#b31a40" text-anchor="middle" textLength="5.70" lengthAdjust="spacingAndGlyphs">32</text>
<text x="160.80" y="331.10" font-size="6.3" fill="#b31a40" text-anchor="middle" textLength="5.70" lengthAdjust="spacingAndGlyphs">26</text>
<text x="175.60" y="331.10" font-size="6.3" fill="#b31a40" text-anchor="middle" textLength="5.70" lengthAdjust="spacingAndGlyphs">19</text>
<text x="190.40" y="331.10" font-size="6.3" fill="#b31a40" text-anchor="middle" textLength="5.70" lengthAdjust="spacingAndGlyphs">12</text>
<text x="205.20" y="331.10" font-size="6.3" fill="#b31a40" text-anchor="middle" textLength="5.70" lengthAdjust="spacingAndGlyphs">12</text>
<text x="220.00" y="331.10" font-size="6.3" fill="#b31a40" text-anchor="middle" textLength="2.85" lengthAdjust="spacingAndGlyphs">7</text>
<text x="234.80" y="331.10" font-size="6.3" fill="#b31a40" text-anchor="middle" textLength="2.85" lengthAdjust="spacingAndGlyphs">1</text>
<text x="249.60" y="331.10" font-size="6.3" fill="#b31a40" text-anchor="middle" textLength="2.85" lengthAdjust="spacingAndGlyphs">0</text>
<text x="274.20" y="184.10" font-size="11.2" fill="#111" textLength="8.10" lengthAdjust="spacingAndGlyphs" font-weight="bold">D</text>
<text x="312.10" y="190.50" font-size="8.8" fill="#333333" textLength="197.30" lengthAdjust="spacingAndGlyphs">Overall Survival by Remission Status (VEN + LDAC):</text>
<text x="362.90" y="200.50" font-size="8.8" fill="#333333" textLength="95.30" lengthAdjust="spacingAndGlyphs">Median Months (95% CI)</text>
<line x1="301.30" y1="205.90" x2="301.30" y2="281.90" stroke="#222" stroke-width="1.4"/>
<line x1="300.60" y1="281.20" x2="520.00" y2="281.20" stroke="#222" stroke-width="1.4"/>
<line x1="298.00" y1="279.50" x2="301.30" y2="279.50" stroke="#111" stroke-width="1.1"/>
<text x="295.10" y="281.80" font-size="6.3" fill="#444" text-anchor="end" textLength="8.40" lengthAdjust="spacingAndGlyphs">0.0</text>
<line x1="298.00" y1="265.16" x2="301.30" y2="265.16" stroke="#111" stroke-width="1.1"/>
<text x="295.10" y="267.46" font-size="6.3" fill="#444" text-anchor="end" textLength="8.40" lengthAdjust="spacingAndGlyphs">0.2</text>
<line x1="298.00" y1="250.82" x2="301.30" y2="250.82" stroke="#111" stroke-width="1.1"/>
<text x="295.10" y="253.12" font-size="6.3" fill="#444" text-anchor="end" textLength="8.40" lengthAdjust="spacingAndGlyphs">0.4</text>
<line x1="298.00" y1="236.48" x2="301.30" y2="236.48" stroke="#111" stroke-width="1.1"/>
<text x="295.10" y="238.78" font-size="6.3" fill="#444" text-anchor="end" textLength="8.40" lengthAdjust="spacingAndGlyphs">0.6</text>
<line x1="298.00" y1="222.14" x2="301.30" y2="222.14" stroke="#111" stroke-width="1.1"/>
<text x="295.10" y="224.44" font-size="6.3" fill="#444" text-anchor="end" textLength="8.40" lengthAdjust="spacingAndGlyphs">0.8</text>
<line x1="298.00" y1="207.80" x2="301.30" y2="207.80" stroke="#111" stroke-width="1.1"/>
<text x="295.10" y="210.10" font-size="6.3" fill="#444" text-anchor="end" textLength="8.40" lengthAdjust="spacingAndGlyphs">1.0</text>
<line x1="307.20" y1="281.20" x2="307.20" y2="284.40" stroke="#111" stroke-width="1.1"/>
<text x="307.20" y="293.10" font-size="6.3" fill="#333" text-anchor="middle" textLength="3.20" lengthAdjust="spacingAndGlyphs">0</text>
<line x1="322.00" y1="281.20" x2="322.00" y2="284.40" stroke="#111" stroke-width="1.1"/>
<text x="322.00" y="293.10" font-size="6.3" fill="#333" text-anchor="middle" textLength="3.20" lengthAdjust="spacingAndGlyphs">3</text>
<line x1="336.80" y1="281.20" x2="336.80" y2="284.40" stroke="#111" stroke-width="1.1"/>
<text x="336.80" y="293.10" font-size="6.3" fill="#333" text-anchor="middle" textLength="3.20" lengthAdjust="spacingAndGlyphs">6</text>
<line x1="351.60" y1="281.20" x2="351.60" y2="284.40" stroke="#111" stroke-width="1.1"/>
<text x="351.60" y="293.10" font-size="6.3" fill="#333" text-anchor="middle" textLength="3.20" lengthAdjust="spacingAndGlyphs">9</text>
<line x1="366.40" y1="281.20" x2="366.40" y2="284.40" stroke="#111" stroke-width="1.1"/>
<text x="366.40" y="293.10" font-size="6.3" fill="#333" text-anchor="middle" textLength="6.50" lengthAdjust="spacingAndGlyphs">12</text>
<line x1="381.20" y1="281.20" x2="381.20" y2="284.40" stroke="#111" stroke-width="1.1"/>
<text x="381.20" y="293.10" font-size="6.3" fill="#333" text-anchor="middle" textLength="6.50" lengthAdjust="spacingAndGlyphs">15</text>
<line x1="396.00" y1="281.20" x2="396.00" y2="284.40" stroke="#111" stroke-width="1.1"/>
<text x="396.00" y="293.10" font-size="6.3" fill="#333" text-anchor="middle" textLength="6.50" lengthAdjust="spacingAndGlyphs">18</text>
<line x1="410.80" y1="281.20" x2="410.80" y2="284.40" stroke="#111" stroke-width="1.1"/>
<text x="410.80" y="293.10" font-size="6.3" fill="#333" text-anchor="middle" textLength="6.50" lengthAdjust="spacingAndGlyphs">21</text>
<line x1="425.60" y1="281.20" x2="425.60" y2="284.40" stroke="#111" stroke-width="1.1"/>
<text x="425.60" y="293.10" font-size="6.3" fill="#333" text-anchor="middle" textLength="6.50" lengthAdjust="spacingAndGlyphs">24</text>
<line x1="440.40" y1="281.20" x2="440.40" y2="284.40" stroke="#111" stroke-width="1.1"/>
<text x="440.40" y="293.10" font-size="6.3" fill="#333" text-anchor="middle" textLength="6.50" lengthAdjust="spacingAndGlyphs">27</text>
<line x1="455.20" y1="281.20" x2="455.20" y2="284.40" stroke="#111" stroke-width="1.1"/>
<text x="455.20" y="293.10" font-size="6.3" fill="#333" text-anchor="middle" textLength="6.50" lengthAdjust="spacingAndGlyphs">30</text>
<line x1="470.00" y1="281.20" x2="470.00" y2="284.40" stroke="#111" stroke-width="1.1"/>
<text x="470.00" y="293.10" font-size="6.3" fill="#333" text-anchor="middle" textLength="6.50" lengthAdjust="spacingAndGlyphs">33</text>
<line x1="484.80" y1="281.20" x2="484.80" y2="284.40" stroke="#111" stroke-width="1.1"/>
<text x="484.80" y="293.10" font-size="6.3" fill="#333" text-anchor="middle" textLength="6.50" lengthAdjust="spacingAndGlyphs">36</text>
<line x1="499.60" y1="281.20" x2="499.60" y2="284.40" stroke="#111" stroke-width="1.1"/>
<text x="499.60" y="293.10" font-size="6.3" fill="#333" text-anchor="middle" textLength="6.50" lengthAdjust="spacingAndGlyphs">39</text>
<line x1="514.40" y1="281.20" x2="514.40" y2="284.40" stroke="#111" stroke-width="1.1"/>
<text x="514.40" y="293.10" font-size="6.3" fill="#333" text-anchor="middle" textLength="6.50" lengthAdjust="spacingAndGlyphs">42</text>
<line x1="302.30" y1="243.65" x2="520.00" y2="243.65" stroke="#777" stroke-width="0.9" stroke-dasharray="3.2,2.2"/>
<text x="280.80" y="243.40" font-size="6.9" fill="#444" text-anchor="middle" textLength="68.00" lengthAdjust="spacingAndGlyphs" transform="rotate(-90 280.80 243.40)">Probability of no event</text>
<text x="411.10" y="305.20" font-size="8.4" fill="#222" text-anchor="middle" textLength="23.20" lengthAdjust="spacingAndGlyphs" stroke="#222" stroke-width="0.12">Months</text>
<text x="305.00" y="278.80" font-size="7.4" fill="#333" textLength="38.60" lengthAdjust="spacingAndGlyphs">+ Censored</text>
<line x1="404.80" y1="210.10" x2="425.00" y2="210.10" stroke="#4ea24e" stroke-width="1.15"/>
<text x="430.90" y="212.00" font-size="5.4" fill="#333333">CR/CRi</text>
<text x="466.00" y="212.00" font-size="5.4" fill="#333333" textLength="39.10" lengthAdjust="spacingAndGlyphs">24.3 (20.1, 28.3)</text>
<line x1="404.80" y1="217.80" x2="425.00" y2="217.80" stroke="#b31a40" stroke-width="1.15"/>
<text x="430.90" y="219.70" font-size="5.4" fill="#333333">CR + CRi</text>
<text x="466.00" y="219.70" font-size="5.4" fill="#333333">20.7 (12.7, 24.5)</text>
<line x1="404.80" y1="225.60" x2="425.00" y2="225.60" stroke="#f0a22a" stroke-width="1.15"/>
<text x="430.90" y="227.50" font-size="5.4" fill="#333333" textLength="29.80" lengthAdjust="spacingAndGlyphs">Non CR/CRi</text>
<text x="466.00" y="227.50" font-size="5.4" fill="#333333">3.4 (2.1, 4.1)</text>
<polyline points="308.50,207.60 310.80,214.50 313.10,224.50 316.90,233.80 320.00,239.20 323.10,243.80 326.20,249.20 330.80,253.80 336.90,258.40 343.10,263.00 349.20,266.10 355.40,269.20 361.50,272.50 364.60,274.10 375.00,274.10 386.50,274.80 396.60,276.30 413.20,276.60 414.70,278.40 416.10,278.40" fill="none" stroke="#f0a22a" stroke-width="1.2" stroke-linejoin="miter"/>
<polyline points="308.50,207.60 329.20,207.60 333.10,210.70 340.80,211.00 342.30,213.00 346.20,213.80 349.20,216.10 353.80,218.40 358.50,221.50 363.10,223.00 364.60,225.30 369.20,225.80 372.30,228.40 375.40,230.20 406.00,230.40 408.20,232.30 411.10,235.20 421.20,235.90 424.80,238.80 427.00,243.10 429.80,246.70 435.60,250.30 438.50,252.50 445.00,252.50 447.20,254.00 453.70,254.40 455.10,256.40 478.90,256.60 480.40,258.80 483.20,259.00 484.70,262.80 511.40,263.00" fill="none" stroke="#4ea24e" stroke-width="1.2" stroke-linejoin="miter"/>
<polyline points="308.50,207.60 329.20,208.10 332.30,212.20 333.10,213.80 340.00,216.10 343.10,219.20 349.20,221.20 353.80,223.80 358.50,227.60 364.60,232.20 370.80,235.30 375.40,237.60 379.30,238.50 389.40,239.50 395.20,241.40 406.70,241.60 411.10,244.20 418.30,245.70 424.10,248.10 428.40,251.00 432.70,252.90 438.50,254.60 444.30,255.80 447.90,256.60 453.70,257.00 455.10,259.50 478.90,259.50 479.60,260.90 483.20,261.40 484.70,263.40 511.40,263.40" fill="none" stroke="#b31a40" stroke-width="1.2" stroke-linejoin="miter"/>
<line x1="395.00" y1="229.10" x2="395.00" y2="231.70" stroke="#333" stroke-width="0.8" stroke-opacity="0.75"/>
<line x1="441.00" y1="251.20" x2="441.00" y2="253.80" stroke="#333" stroke-width="0.8" stroke-opacity="0.75"/>
<line x1="445.00" y1="251.20" x2="445.00" y2="253.80" stroke="#333" stroke-width="0.8" stroke-opacity="0.75"/>
<line x1="470.00" y1="255.30" x2="470.00" y2="257.90" stroke="#333" stroke-width="0.8" stroke-opacity="0.75"/>
<line x1="498.00" y1="261.90" x2="498.00" y2="264.50" stroke="#333" stroke-width="0.8" stroke-opacity="0.75"/>
<line x1="505.00" y1="261.90" x2="505.00" y2="264.50" stroke="#333" stroke-width="0.8" stroke-opacity="0.75"/>
<line x1="313.00" y1="222.70" x2="313.00" y2="225.30" stroke="#333" stroke-width="0.8" stroke-opacity="0.75"/>
<line x1="317.00" y1="232.40" x2="317.00" y2="235.00" stroke="#333" stroke-width="0.8" stroke-opacity="0.75"/>
<line x1="414.00" y1="277.10" x2="414.00" y2="279.70" stroke="#333" stroke-width="0.8" stroke-opacity="0.75"/>
<text x="270.80" y="315.30" font-size="5.6" fill="#222" textLength="36.30" lengthAdjust="spacingAndGlyphs">Patients at Risk</text>
<text x="270.80" y="323.20" font-size="5.5" fill="#4ea24e" textLength="19.00" lengthAdjust="spacingAndGlyphs">CR/CRi</text>
<text x="307.20" y="323.40" font-size="6.3" fill="#4ea24e" text-anchor="middle" textLength="5.70" lengthAdjust="spacingAndGlyphs">41</text>
<text x="322.00" y="323.40" font-size="6.3" fill="#4ea24e" text-anchor="middle" textLength="5.70" lengthAdjust="spacingAndGlyphs">41</text>
<text x="336.80" y="323.40" font-size="6.3" fill="#4ea24e" text-anchor="middle" textLength="5.70" lengthAdjust="spacingAndGlyphs">39</text>
<text x="351.60" y="323.40" font-size="6.3" fill="#4ea24e" text-anchor="middle" textLength="5.70" lengthAdjust="spacingAndGlyphs">35</text>
<text x="366.40" y="323.40" font-size="6.3" fill="#4ea24e" text-anchor="middle" textLength="5.70" lengthAdjust="spacingAndGlyphs">31</text>
<text x="381.20" y="323.40" font-size="6.3" fill="#4ea24e" text-anchor="middle" textLength="5.70" lengthAdjust="spacingAndGlyphs">28</text>
<text x="396.00" y="323.40" font-size="6.3" fill="#4ea24e" text-anchor="middle" textLength="5.70" lengthAdjust="spacingAndGlyphs">27</text>
<text x="410.80" y="323.40" font-size="6.3" fill="#4ea24e" text-anchor="middle" textLength="5.70" lengthAdjust="spacingAndGlyphs">24</text>
<text x="425.60" y="323.40" font-size="6.3" fill="#4ea24e" text-anchor="middle" textLength="5.70" lengthAdjust="spacingAndGlyphs">21</text>
<text x="440.40" y="323.40" font-size="6.3" fill="#4ea24e" text-anchor="middle" textLength="5.70" lengthAdjust="spacingAndGlyphs">14</text>
<text x="455.20" y="323.40" font-size="6.3" fill="#4ea24e" text-anchor="middle" textLength="5.70" lengthAdjust="spacingAndGlyphs">10</text>
<text x="470.00" y="323.40" font-size="6.3" fill="#4ea24e" text-anchor="middle" textLength="5.70" lengthAdjust="spacingAndGlyphs">10</text>
<text x="484.80" y="323.40" font-size="6.3" fill="#4ea24e" text-anchor="middle" textLength="2.85" lengthAdjust="spacingAndGlyphs">5</text>
<text x="499.60" y="323.40" font-size="6.3" fill="#4ea24e" text-anchor="middle" textLength="2.85" lengthAdjust="spacingAndGlyphs">1</text>
<text x="514.40" y="323.40" font-size="6.3" fill="#4ea24e" text-anchor="middle" textLength="2.85" lengthAdjust="spacingAndGlyphs">0</text>
<text x="270.80" y="330.60" font-size="5.5" fill="#b31a40" textLength="23.00" lengthAdjust="spacingAndGlyphs">CR + CRi</text>
<text x="307.20" y="330.80" font-size="6.3" fill="#b31a40" text-anchor="middle" textLength="5.70" lengthAdjust="spacingAndGlyphs">69</text>
<text x="322.00" y="330.80" font-size="6.3" fill="#b31a40" text-anchor="middle" textLength="5.70" lengthAdjust="spacingAndGlyphs">67</text>
<text x="336.80" y="330.80" font-size="6.3" fill="#b31a40" text-anchor="middle" textLength="5.70" lengthAdjust="spacingAndGlyphs">60</text>
<text x="351.60" y="330.80" font-size="6.3" fill="#b31a40" text-anchor="middle" textLength="5.70" lengthAdjust="spacingAndGlyphs">55</text>
<text x="366.40" y="330.80" font-size="6.3" fill="#b31a40" text-anchor="middle" textLength="5.70" lengthAdjust="spacingAndGlyphs">43</text>
<text x="381.20" y="330.80" font-size="6.3" fill="#b31a40" text-anchor="middle" textLength="5.70" lengthAdjust="spacingAndGlyphs">38</text>
<text x="396.00" y="330.80" font-size="6.3" fill="#b31a40" text-anchor="middle" textLength="5.70" lengthAdjust="spacingAndGlyphs">35</text>
<text x="410.80" y="330.80" font-size="6.3" fill="#b31a40" text-anchor="middle" textLength="5.70" lengthAdjust="spacingAndGlyphs">32</text>
<text x="425.60" y="330.80" font-size="6.3" fill="#b31a40" text-anchor="middle" textLength="5.70" lengthAdjust="spacingAndGlyphs">28</text>
<text x="440.40" y="330.80" font-size="6.3" fill="#b31a40" text-anchor="middle" textLength="5.70" lengthAdjust="spacingAndGlyphs">21</text>
<text x="455.20" y="330.80" font-size="6.3" fill="#b31a40" text-anchor="middle" textLength="5.70" lengthAdjust="spacingAndGlyphs">14</text>
<text x="470.00" y="330.80" font-size="6.3" fill="#b31a40" text-anchor="middle" textLength="5.70" lengthAdjust="spacingAndGlyphs">14</text>
<text x="484.80" y="330.80" font-size="6.3" fill="#b31a40" text-anchor="middle" textLength="2.85" lengthAdjust="spacingAndGlyphs">8</text>
<text x="499.60" y="330.80" font-size="6.3" fill="#b31a40" text-anchor="middle" textLength="2.85" lengthAdjust="spacingAndGlyphs">1</text>
<text x="514.40" y="330.80" font-size="6.3" fill="#b31a40" text-anchor="middle" textLength="2.85" lengthAdjust="spacingAndGlyphs">0</text>
<text x="270.80" y="338.10" font-size="5.5" fill="#f0a22a" textLength="29.00" lengthAdjust="spacingAndGlyphs">Non CR/CRi</text>
<text x="307.20" y="338.30" font-size="6.3" fill="#f0a22a" text-anchor="middle" textLength="5.70" lengthAdjust="spacingAndGlyphs">74</text>
<text x="322.00" y="338.30" font-size="6.3" fill="#f0a22a" text-anchor="middle" textLength="5.70" lengthAdjust="spacingAndGlyphs">36</text>
<text x="336.80" y="338.30" font-size="6.3" fill="#f0a22a" text-anchor="middle" textLength="5.70" lengthAdjust="spacingAndGlyphs">18</text>
<text x="351.60" y="338.30" font-size="6.3" fill="#f0a22a" text-anchor="middle" textLength="5.70" lengthAdjust="spacingAndGlyphs">10</text>
<text x="366.40" y="338.30" font-size="6.3" fill="#f0a22a" text-anchor="middle" textLength="2.85" lengthAdjust="spacingAndGlyphs">5</text>
<text x="381.20" y="338.30" font-size="6.3" fill="#f0a22a" text-anchor="middle" textLength="2.85" lengthAdjust="spacingAndGlyphs">4</text>
<text x="396.00" y="338.30" font-size="6.3" fill="#f0a22a" text-anchor="middle" textLength="2.85" lengthAdjust="spacingAndGlyphs">3</text>
<text x="410.80" y="338.30" font-size="6.3" fill="#f0a22a" text-anchor="middle" textLength="2.85" lengthAdjust="spacingAndGlyphs">3</text>
<text x="425.60" y="338.30" font-size="6.3" fill="#f0a22a" text-anchor="middle" textLength="2.85" lengthAdjust="spacingAndGlyphs">0</text>
<text x="440.40" y="338.30" font-size="6.3" fill="#f0a22a" text-anchor="middle" textLength="2.85" lengthAdjust="spacingAndGlyphs">0</text>
<text x="455.20" y="338.30" font-size="6.3" fill="#f0a22a" text-anchor="middle" textLength="2.85" lengthAdjust="spacingAndGlyphs">0</text>
<text x="470.00" y="338.30" font-size="6.3" fill="#f0a22a" text-anchor="middle" textLength="2.85" lengthAdjust="spacingAndGlyphs">0</text>
<text x="484.80" y="338.30" font-size="6.3" fill="#f0a22a" text-anchor="middle" textLength="2.85" lengthAdjust="spacingAndGlyphs">0</text>
<text x="499.60" y="338.30" font-size="6.3" fill="#f0a22a" text-anchor="middle" textLength="2.85" lengthAdjust="spacingAndGlyphs">0</text>
<text x="514.40" y="338.30" font-size="6.3" fill="#f0a22a" text-anchor="middle" textLength="2.85" lengthAdjust="spacingAndGlyphs">0</text>
<text x="7.20" y="364.00" font-size="11.2" fill="#111" textLength="6.10" lengthAdjust="spacingAndGlyphs" font-weight="bold">E</text>
<text x="86.20" y="371.60" font-size="8.8" fill="#333333" textLength="121.80" lengthAdjust="spacingAndGlyphs">Overall Survival (VEN + LDAC):</text>
<text x="97.70" y="381.90" font-size="8.8" fill="#333333" textLength="96.90" lengthAdjust="spacingAndGlyphs">Median Months (95% CI)</text>
<line x1="36.50" y1="387.30" x2="36.50" y2="463.30" stroke="#222" stroke-width="1.4"/>
<line x1="35.80" y1="462.60" x2="255.40" y2="462.60" stroke="#222" stroke-width="1.4"/>
<line x1="33.20" y1="460.90" x2="36.50" y2="460.90" stroke="#111" stroke-width="1.1"/>
<text x="30.30" y="463.20" font-size="6.3" fill="#444" text-anchor="end" textLength="8.40" lengthAdjust="spacingAndGlyphs">0.0</text>
<line x1="33.20" y1="446.56" x2="36.50" y2="446.56" stroke="#111" stroke-width="1.1"/>
<text x="30.30" y="448.86" font-size="6.3" fill="#444" text-anchor="end" textLength="8.40" lengthAdjust="spacingAndGlyphs">0.2</text>
<line x1="33.20" y1="432.22" x2="36.50" y2="432.22" stroke="#111" stroke-width="1.1"/>
<text x="30.30" y="434.52" font-size="6.3" fill="#444" text-anchor="end" textLength="8.40" lengthAdjust="spacingAndGlyphs">0.4</text>
<line x1="33.20" y1="417.88" x2="36.50" y2="417.88" stroke="#111" stroke-width="1.1"/>
<text x="30.30" y="420.18" font-size="6.3" fill="#444" text-anchor="end" textLength="8.40" lengthAdjust="spacingAndGlyphs">0.6</text>
<line x1="33.20" y1="403.54" x2="36.50" y2="403.54" stroke="#111" stroke-width="1.1"/>
<text x="30.30" y="405.84" font-size="6.3" fill="#444" text-anchor="end" textLength="8.40" lengthAdjust="spacingAndGlyphs">0.8</text>
<line x1="33.20" y1="389.20" x2="36.50" y2="389.20" stroke="#111" stroke-width="1.1"/>
<text x="30.30" y="391.50" font-size="6.3" fill="#444" text-anchor="end" textLength="8.40" lengthAdjust="spacingAndGlyphs">1.0</text>
<line x1="42.40" y1="462.60" x2="42.40" y2="465.80" stroke="#111" stroke-width="1.1"/>
<text x="42.40" y="474.50" font-size="6.3" fill="#333" text-anchor="middle" textLength="3.20" lengthAdjust="spacingAndGlyphs">0</text>
<line x1="57.20" y1="462.60" x2="57.20" y2="465.80" stroke="#111" stroke-width="1.1"/>
<text x="57.20" y="474.50" font-size="6.3" fill="#333" text-anchor="middle" textLength="3.20" lengthAdjust="spacingAndGlyphs">3</text>
<line x1="72.00" y1="462.60" x2="72.00" y2="465.80" stroke="#111" stroke-width="1.1"/>
<text x="72.00" y="474.50" font-size="6.3" fill="#333" text-anchor="middle" textLength="3.20" lengthAdjust="spacingAndGlyphs">6</text>
<line x1="86.80" y1="462.60" x2="86.80" y2="465.80" stroke="#111" stroke-width="1.1"/>
<text x="86.80" y="474.50" font-size="6.3" fill="#333" text-anchor="middle" textLength="3.20" lengthAdjust="spacingAndGlyphs">9</text>
<line x1="101.60" y1="462.60" x2="101.60" y2="465.80" stroke="#111" stroke-width="1.1"/>
<text x="101.60" y="474.50" font-size="6.3" fill="#333" text-anchor="middle" textLength="6.50" lengthAdjust="spacingAndGlyphs">12</text>
<line x1="116.40" y1="462.60" x2="116.40" y2="465.80" stroke="#111" stroke-width="1.1"/>
<text x="116.40" y="474.50" font-size="6.3" fill="#333" text-anchor="middle" textLength="6.50" lengthAdjust="spacingAndGlyphs">15</text>
<line x1="131.20" y1="462.60" x2="131.20" y2="465.80" stroke="#111" stroke-width="1.1"/>
<text x="131.20" y="474.50" font-size="6.3" fill="#333" text-anchor="middle" textLength="6.50" lengthAdjust="spacingAndGlyphs">18</text>
<line x1="146.00" y1="462.60" x2="146.00" y2="465.80" stroke="#111" stroke-width="1.1"/>
<text x="146.00" y="474.50" font-size="6.3" fill="#333" text-anchor="middle" textLength="6.50" lengthAdjust="spacingAndGlyphs">21</text>
<line x1="160.80" y1="462.60" x2="160.80" y2="465.80" stroke="#111" stroke-width="1.1"/>
<text x="160.80" y="474.50" font-size="6.3" fill="#333" text-anchor="middle" textLength="6.50" lengthAdjust="spacingAndGlyphs">24</text>
<line x1="175.60" y1="462.60" x2="175.60" y2="465.80" stroke="#111" stroke-width="1.1"/>
<text x="175.60" y="474.50" font-size="6.3" fill="#333" text-anchor="middle" textLength="6.50" lengthAdjust="spacingAndGlyphs">27</text>
<line x1="190.40" y1="462.60" x2="190.40" y2="465.80" stroke="#111" stroke-width="1.1"/>
<text x="190.40" y="474.50" font-size="6.3" fill="#333" text-anchor="middle" textLength="6.50" lengthAdjust="spacingAndGlyphs">30</text>
<line x1="205.20" y1="462.60" x2="205.20" y2="465.80" stroke="#111" stroke-width="1.1"/>
<text x="205.20" y="474.50" font-size="6.3" fill="#333" text-anchor="middle" textLength="6.50" lengthAdjust="spacingAndGlyphs">33</text>
<line x1="220.00" y1="462.60" x2="220.00" y2="465.80" stroke="#111" stroke-width="1.1"/>
<text x="220.00" y="474.50" font-size="6.3" fill="#333" text-anchor="middle" textLength="6.50" lengthAdjust="spacingAndGlyphs">36</text>
<line x1="234.80" y1="462.60" x2="234.80" y2="465.80" stroke="#111" stroke-width="1.1"/>
<text x="234.80" y="474.50" font-size="6.3" fill="#333" text-anchor="middle" textLength="6.50" lengthAdjust="spacingAndGlyphs">39</text>
<line x1="249.60" y1="462.60" x2="249.60" y2="465.80" stroke="#111" stroke-width="1.1"/>
<text x="249.60" y="474.50" font-size="6.3" fill="#333" text-anchor="middle" textLength="6.50" lengthAdjust="spacingAndGlyphs">42</text>
<line x1="37.50" y1="425.05" x2="255.40" y2="425.05" stroke="#777" stroke-width="0.9" stroke-dasharray="3.2,2.2"/>
<text x="16.00" y="424.80" font-size="6.9" fill="#444" text-anchor="middle" textLength="68.00" lengthAdjust="spacingAndGlyphs" transform="rotate(-90 16.00 424.80)">Probability of no event</text>
<text x="146.30" y="486.60" font-size="8.4" fill="#222" text-anchor="middle" textLength="23.20" lengthAdjust="spacingAndGlyphs" stroke="#222" stroke-width="0.12">Months</text>
<text x="40.20" y="460.20" font-size="7.4" fill="#333" textLength="38.60" lengthAdjust="spacingAndGlyphs">+ Censored</text>
<line x1="128.00" y1="391.90" x2="147.70" y2="391.90" stroke="#4ea24e" stroke-width="1.15"/>
<text x="153.90" y="393.80" font-size="5.5" fill="#333333" textLength="33.70" lengthAdjust="spacingAndGlyphs">De novo AML</text>
<text x="203.30" y="393.80" font-size="5.5" fill="#333333" textLength="33.70" lengthAdjust="spacingAndGlyphs">9.2 (7.2, 12.7)</text>
<line x1="128.00" y1="400.00" x2="147.70" y2="400.00" stroke="#b31a40" stroke-width="1.15"/>
<text x="153.90" y="401.90" font-size="5.5" fill="#333333">Secondary AML</text>
<text x="203.30" y="401.90" font-size="5.5" fill="#333333">5.6 (3.4, 9.8)</text>
<line x1="128.00" y1="408.10" x2="147.70" y2="408.10" stroke="#f0a22a" stroke-width="1.15"/>
<text x="153.90" y="410.00" font-size="5.5" fill="#333333" textLength="41.20" lengthAdjust="spacingAndGlyphs">Intermediate risk</text>
<text x="203.30" y="410.00" font-size="5.5" fill="#333333" textLength="36.20" lengthAdjust="spacingAndGlyphs">11.2 (7.9, 16.4)</text>
<line x1="128.00" y1="416.20" x2="147.70" y2="416.20" stroke="#2f5d9e" stroke-width="1.15"/>
<text x="153.90" y="418.10" font-size="5.5" fill="#333333">Poor risk</text>
<text x="203.30" y="418.10" font-size="5.5" fill="#333333">4.4 (3.0, 6.4)</text>
<polyline points="44.50,388.80 48.30,395.30 52.90,399.20 59.10,402.20 63.70,406.10 69.80,411.50 77.50,415.30 82.20,418.40 88.30,423.30 94.50,426.80 100.60,430.70 106.80,433.00 110.00,433.70 117.20,435.90 124.40,436.60 144.60,437.30 150.40,439.50 159.10,440.90 164.80,442.40 169.20,443.80 174.90,444.50 180.00,444.60 188.70,446.00 213.20,446.70 217.50,447.40 219.70,449.30 246.40,449.30" fill="none" stroke="#4ea24e" stroke-width="1.2" stroke-linejoin="miter"/>
<polyline points="44.50,388.80 48.30,396.80 52.20,406.10 56.00,411.50 60.60,416.10 65.20,419.90 71.40,425.30 74.50,429.20 76.00,432.20 89.80,432.20 94.50,436.10 100.60,439.20 103.70,441.20 110.00,441.40 123.00,441.60 127.30,444.50 143.20,444.80 147.50,447.40 159.10,448.10 163.40,450.30 172.00,451.00 173.50,453.20 180.00,453.60 190.10,454.30 190.80,455.40 213.20,455.40 215.40,457.80 221.10,457.80" fill="none" stroke="#b31a40" stroke-width="1.2" stroke-linejoin="miter"/>
<polyline points="44.50,388.80 48.30,397.60 52.90,406.10 57.50,413.80 60.60,418.40 61.40,421.50 66.80,427.60 72.90,432.20 77.50,436.10 83.70,438.40 89.80,442.20 94.50,444.50 99.80,449.20 110.00,449.90 146.80,449.90 149.00,451.70 159.10,452.00 161.90,455.80 214.60,456.10 232.70,456.10" fill="none" stroke="#2f5d9e" stroke-width="1.2" stroke-linejoin="miter"/>
<polyline points="44.50,388.80 47.50,394.50 51.40,398.40 56.00,403.00 60.60,404.50 66.80,409.20 74.50,413.80 82.20,417.60 89.80,419.90 97.50,422.70 105.20,426.80 111.40,429.20 115.80,432.30 124.40,433.00 130.20,434.10 141.70,435.20 146.10,437.30 153.30,438.80 160.50,439.90 167.70,441.60 173.50,443.40 180.00,443.60 188.70,445.30 190.10,447.10 213.20,447.10 218.20,448.10 219.70,449.60 246.40,449.60" fill="none" stroke="#f0a22a" stroke-width="1.2" stroke-linejoin="miter"/>
<line x1="213.00" y1="445.80" x2="213.00" y2="448.40" stroke="#333" stroke-width="0.8" stroke-opacity="0.75"/>
<line x1="218.00" y1="446.80" x2="218.00" y2="449.40" stroke="#333" stroke-width="0.8" stroke-opacity="0.75"/>
<line x1="224.00" y1="448.20" x2="224.00" y2="450.80" stroke="#333" stroke-width="0.8" stroke-opacity="0.75"/>
<line x1="230.00" y1="448.20" x2="230.00" y2="450.80" stroke="#333" stroke-width="0.8" stroke-opacity="0.75"/>
<line x1="236.00" y1="448.20" x2="236.00" y2="450.80" stroke="#333" stroke-width="0.8" stroke-opacity="0.75"/>
<line x1="245.00" y1="448.20" x2="245.00" y2="450.80" stroke="#333" stroke-width="0.8" stroke-opacity="0.75"/>
<line x1="220.00" y1="454.80" x2="220.00" y2="457.40" stroke="#333" stroke-width="0.8" stroke-opacity="0.75"/>
<text x="-0.50" y="496.20" font-size="5.6" fill="#222" textLength="36.30" lengthAdjust="spacingAndGlyphs">Patients at Risk</text>
<text x="-0.50" y="504.20" font-size="5.5" fill="#4ea24e" textLength="30.00" lengthAdjust="spacingAndGlyphs">De novo AML</text>
<text x="42.40" y="504.40" font-size="6.3" fill="#4ea24e" text-anchor="middle" textLength="5.70" lengthAdjust="spacingAndGlyphs">85</text>
<text x="57.20" y="504.40" font-size="6.3" fill="#4ea24e" text-anchor="middle" textLength="5.70" lengthAdjust="spacingAndGlyphs">66</text>
<text x="72.00" y="504.40" font-size="6.3" fill="#4ea24e" text-anchor="middle" textLength="5.70" lengthAdjust="spacingAndGlyphs">53</text>
<text x="86.80" y="504.40" font-size="6.3" fill="#4ea24e" text-anchor="middle" textLength="5.70" lengthAdjust="spacingAndGlyphs">42</text>
<text x="101.60" y="504.40" font-size="6.3" fill="#4ea24e" text-anchor="middle" textLength="5.70" lengthAdjust="spacingAndGlyphs">32</text>
<text x="116.40" y="504.40" font-size="6.3" fill="#4ea24e" text-anchor="middle" textLength="5.70" lengthAdjust="spacingAndGlyphs">27</text>
<text x="131.20" y="504.40" font-size="6.3" fill="#4ea24e" text-anchor="middle" textLength="5.70" lengthAdjust="spacingAndGlyphs">25</text>
<text x="146.00" y="504.40" font-size="6.3" fill="#4ea24e" text-anchor="middle" textLength="5.70" lengthAdjust="spacingAndGlyphs">24</text>
<text x="160.80" y="504.40" font-size="6.3" fill="#4ea24e" text-anchor="middle" textLength="5.70" lengthAdjust="spacingAndGlyphs">20</text>
<text x="175.60" y="504.40" font-size="6.3" fill="#4ea24e" text-anchor="middle" textLength="5.70" lengthAdjust="spacingAndGlyphs">16</text>
<text x="190.40" y="504.40" font-size="6.3" fill="#4ea24e" text-anchor="middle" textLength="5.70" lengthAdjust="spacingAndGlyphs">11</text>
<text x="205.20" y="504.40" font-size="6.3" fill="#4ea24e" text-anchor="middle" textLength="5.70" lengthAdjust="spacingAndGlyphs">11</text>
<text x="220.00" y="504.40" font-size="6.3" fill="#4ea24e" text-anchor="middle" textLength="2.85" lengthAdjust="spacingAndGlyphs">7</text>
<text x="234.80" y="504.40" font-size="6.3" fill="#4ea24e" text-anchor="middle" textLength="2.85" lengthAdjust="spacingAndGlyphs">1</text>
<text x="249.60" y="504.40" font-size="6.3" fill="#4ea24e" text-anchor="middle" textLength="2.85" lengthAdjust="spacingAndGlyphs">0</text>
<text x="-0.50" y="511.40" font-size="5.5" fill="#b31a40" textLength="36.00" lengthAdjust="spacingAndGlyphs">Secondary AML</text>
<text x="42.40" y="511.60" font-size="6.3" fill="#b31a40" text-anchor="middle" textLength="5.70" lengthAdjust="spacingAndGlyphs">58</text>
<text x="57.20" y="511.60" font-size="6.3" fill="#b31a40" text-anchor="middle" textLength="5.70" lengthAdjust="spacingAndGlyphs">37</text>
<text x="72.00" y="511.60" font-size="6.3" fill="#b31a40" text-anchor="middle" textLength="5.70" lengthAdjust="spacingAndGlyphs">25</text>
<text x="86.80" y="511.60" font-size="6.3" fill="#b31a40" text-anchor="middle" textLength="5.70" lengthAdjust="spacingAndGlyphs">23</text>
<text x="101.60" y="511.60" font-size="6.3" fill="#b31a40" text-anchor="middle" textLength="5.70" lengthAdjust="spacingAndGlyphs">16</text>
<text x="116.40" y="511.60" font-size="6.3" fill="#b31a40" text-anchor="middle" textLength="5.70" lengthAdjust="spacingAndGlyphs">15</text>
<text x="131.20" y="511.60" font-size="6.3" fill="#b31a40" text-anchor="middle" textLength="5.70" lengthAdjust="spacingAndGlyphs">13</text>
<text x="146.00" y="511.60" font-size="6.3" fill="#b31a40" text-anchor="middle" textLength="5.70" lengthAdjust="spacingAndGlyphs">11</text>
<text x="160.80" y="511.60" font-size="6.3" fill="#b31a40" text-anchor="middle" textLength="2.85" lengthAdjust="spacingAndGlyphs">8</text>
<text x="175.60" y="511.60" font-size="6.3" fill="#b31a40" text-anchor="middle" textLength="2.85" lengthAdjust="spacingAndGlyphs">5</text>
<text x="190.40" y="511.60" font-size="6.3" fill="#b31a40" text-anchor="middle" textLength="2.85" lengthAdjust="spacingAndGlyphs">3</text>
<text x="205.20" y="511.60" font-size="6.3" fill="#b31a40" text-anchor="middle" textLength="2.85" lengthAdjust="spacingAndGlyphs">3</text>
<text x="220.00" y="511.60" font-size="6.3" fill="#b31a40" text-anchor="middle" textLength="2.85" lengthAdjust="spacingAndGlyphs">1</text>
<text x="234.80" y="511.60" font-size="6.3" fill="#b31a40" text-anchor="middle" textLength="2.85" lengthAdjust="spacingAndGlyphs">0</text>
<text x="249.60" y="511.60" font-size="6.3" fill="#b31a40" text-anchor="middle" textLength="2.85" lengthAdjust="spacingAndGlyphs">0</text>
<text x="-0.50" y="518.50" font-size="5.5" fill="#f5c27a" textLength="36.00" lengthAdjust="spacingAndGlyphs">Intermediate risk</text>
<text x="42.40" y="518.70" font-size="6.3" fill="#f5c27a" text-anchor="middle" textLength="5.70" lengthAdjust="spacingAndGlyphs">90</text>
<text x="57.20" y="518.70" font-size="6.3" fill="#f5c27a" text-anchor="middle" textLength="5.70" lengthAdjust="spacingAndGlyphs">67</text>
<text x="72.00" y="518.70" font-size="6.3" fill="#f5c27a" text-anchor="middle" textLength="5.70" lengthAdjust="spacingAndGlyphs">56</text>
<text x="86.80" y="518.70" font-size="6.3" fill="#f5c27a" text-anchor="middle" textLength="5.70" lengthAdjust="spacingAndGlyphs">50</text>
<text x="101.60" y="518.70" font-size="6.3" fill="#f5c27a" text-anchor="middle" textLength="5.70" lengthAdjust="spacingAndGlyphs">40</text>
<text x="116.40" y="518.70" font-size="6.3" fill="#f5c27a" text-anchor="middle" textLength="5.70" lengthAdjust="spacingAndGlyphs">34</text>
<text x="131.20" y="518.70" font-size="6.3" fill="#f5c27a" text-anchor="middle" textLength="5.70" lengthAdjust="spacingAndGlyphs">31</text>
<text x="146.00" y="518.70" font-size="6.3" fill="#f5c27a" text-anchor="middle" textLength="5.70" lengthAdjust="spacingAndGlyphs">28</text>
<text x="160.80" y="518.70" font-size="6.3" fill="#f5c27a" text-anchor="middle" textLength="5.70" lengthAdjust="spacingAndGlyphs">25</text>
<text x="175.60" y="518.70" font-size="6.3" fill="#f5c27a" text-anchor="middle" textLength="5.70" lengthAdjust="spacingAndGlyphs">19</text>
<text x="190.40" y="518.70" font-size="6.3" fill="#f5c27a" text-anchor="middle" textLength="5.70" lengthAdjust="spacingAndGlyphs">12</text>
<text x="205.20" y="518.70" font-size="6.3" fill="#f5c27a" text-anchor="middle" textLength="5.70" lengthAdjust="spacingAndGlyphs">12</text>
<text x="220.00" y="518.70" font-size="6.3" fill="#f5c27a" text-anchor="middle" textLength="2.85" lengthAdjust="spacingAndGlyphs">7</text>
<text x="234.80" y="518.70" font-size="6.3" fill="#f5c27a" text-anchor="middle" textLength="2.85" lengthAdjust="spacingAndGlyphs">1</text>
<text x="249.60" y="518.70" font-size="6.3" fill="#f5c27a" text-anchor="middle" textLength="2.85" lengthAdjust="spacingAndGlyphs">0</text>
<text x="-0.50" y="525.30" font-size="5.5" fill="#2f5d9e" textLength="22.00" lengthAdjust="spacingAndGlyphs">Poor risk</text>
<text x="42.40" y="525.50" font-size="6.3" fill="#2f5d9e" text-anchor="middle" textLength="5.70" lengthAdjust="spacingAndGlyphs">47</text>
<text x="57.20" y="525.50" font-size="6.3" fill="#2f5d9e" text-anchor="middle" textLength="5.70" lengthAdjust="spacingAndGlyphs">30</text>
<text x="72.00" y="525.50" font-size="6.3" fill="#2f5d9e" text-anchor="middle" textLength="5.70" lengthAdjust="spacingAndGlyphs">18</text>
<text x="86.80" y="525.50" font-size="6.3" fill="#2f5d9e" text-anchor="middle" textLength="5.70" lengthAdjust="spacingAndGlyphs">12</text>
<text x="101.60" y="525.50" font-size="6.3" fill="#2f5d9e" text-anchor="middle" textLength="2.85" lengthAdjust="spacingAndGlyphs">7</text>
<text x="116.40" y="525.50" font-size="6.3" fill="#2f5d9e" text-anchor="middle" textLength="2.85" lengthAdjust="spacingAndGlyphs">7</text>
<text x="131.20" y="525.50" font-size="6.3" fill="#2f5d9e" text-anchor="middle" textLength="2.85" lengthAdjust="spacingAndGlyphs">6</text>
<text x="146.00" y="525.50" font-size="6.3" fill="#2f5d9e" text-anchor="middle" textLength="2.85" lengthAdjust="spacingAndGlyphs">6</text>
<text x="160.80" y="525.50" font-size="6.3" fill="#2f5d9e" text-anchor="middle" textLength="2.85" lengthAdjust="spacingAndGlyphs">3</text>
<text x="175.60" y="525.50" font-size="6.3" fill="#2f5d9e" text-anchor="middle" textLength="2.85" lengthAdjust="spacingAndGlyphs">2</text>
<text x="190.40" y="525.50" font-size="6.3" fill="#2f5d9e" text-anchor="middle" textLength="2.85" lengthAdjust="spacingAndGlyphs">2</text>
<text x="205.20" y="525.50" font-size="6.3" fill="#2f5d9e" text-anchor="middle" textLength="2.85" lengthAdjust="spacingAndGlyphs">2</text>
<text x="220.00" y="525.50" font-size="6.3" fill="#2f5d9e" text-anchor="middle" textLength="2.85" lengthAdjust="spacingAndGlyphs">1</text>
<text x="234.80" y="525.50" font-size="6.3" fill="#2f5d9e" text-anchor="middle" textLength="2.85" lengthAdjust="spacingAndGlyphs">0</text>
<text x="249.60" y="525.50" font-size="6.3" fill="#2f5d9e" text-anchor="middle" textLength="2.85" lengthAdjust="spacingAndGlyphs">0</text>
<rect x="0" y="515.4" width="17.5" height="2.2" fill="#f2b45a"/>
<text x="274.30" y="364.00" font-size="11.2" fill="#111" textLength="6.50" lengthAdjust="spacingAndGlyphs" font-weight="bold">F</text>
<text x="309.00" y="371.70" font-size="8.8" fill="#333333" textLength="203.00" lengthAdjust="spacingAndGlyphs">Overall Survival by Mutational Status (VEN + LDAC):</text>
<text x="362.80" y="382.00" font-size="8.8" fill="#333333" textLength="95.40" lengthAdjust="spacingAndGlyphs">Median Months (95% CI)</text>
<line x1="301.30" y1="387.30" x2="301.30" y2="463.30" stroke="#222" stroke-width="1.4"/>
<line x1="300.60" y1="462.60" x2="520.00" y2="462.60" stroke="#222" stroke-width="1.4"/>
<line x1="298.00" y1="460.90" x2="301.30" y2="460.90" stroke="#111" stroke-width="1.1"/>
<text x="295.10" y="463.20" font-size="6.3" fill="#444" text-anchor="end" textLength="8.40" lengthAdjust="spacingAndGlyphs">0.0</text>
<line x1="298.00" y1="446.56" x2="301.30" y2="446.56" stroke="#111" stroke-width="1.1"/>
<text x="295.10" y="448.86" font-size="6.3" fill="#444" text-anchor="end" textLength="8.40" lengthAdjust="spacingAndGlyphs">0.2</text>
<line x1="298.00" y1="432.22" x2="301.30" y2="432.22" stroke="#111" stroke-width="1.1"/>
<text x="295.10" y="434.52" font-size="6.3" fill="#444" text-anchor="end" textLength="8.40" lengthAdjust="spacingAndGlyphs">0.4</text>
<line x1="298.00" y1="417.88" x2="301.30" y2="417.88" stroke="#111" stroke-width="1.1"/>
<text x="295.10" y="420.18" font-size="6.3" fill="#444" text-anchor="end" textLength="8.40" lengthAdjust="spacingAndGlyphs">0.6</text>
<line x1="298.00" y1="403.54" x2="301.30" y2="403.54" stroke="#111" stroke-width="1.1"/>
<text x="295.10" y="405.84" font-size="6.3" fill="#444" text-anchor="end" textLength="8.40" lengthAdjust="spacingAndGlyphs">0.8</text>
<line x1="298.00" y1="389.20" x2="301.30" y2="389.20" stroke="#111" stroke-width="1.1"/>
<text x="295.10" y="391.50" font-size="6.3" fill="#444" text-anchor="end" textLength="8.40" lengthAdjust="spacingAndGlyphs">1.0</text>
<line x1="307.20" y1="462.60" x2="307.20" y2="465.80" stroke="#111" stroke-width="1.1"/>
<text x="307.20" y="474.50" font-size="6.3" fill="#333" text-anchor="middle" textLength="3.20" lengthAdjust="spacingAndGlyphs">0</text>
<line x1="322.00" y1="462.60" x2="322.00" y2="465.80" stroke="#111" stroke-width="1.1"/>
<text x="322.00" y="474.50" font-size="6.3" fill="#333" text-anchor="middle" textLength="3.20" lengthAdjust="spacingAndGlyphs">3</text>
<line x1="336.80" y1="462.60" x2="336.80" y2="465.80" stroke="#111" stroke-width="1.1"/>
<text x="336.80" y="474.50" font-size="6.3" fill="#333" text-anchor="middle" textLength="3.20" lengthAdjust="spacingAndGlyphs">6</text>
<line x1="351.60" y1="462.60" x2="351.60" y2="465.80" stroke="#111" stroke-width="1.1"/>
<text x="351.60" y="474.50" font-size="6.3" fill="#333" text-anchor="middle" textLength="3.20" lengthAdjust="spacingAndGlyphs">9</text>
<line x1="366.40" y1="462.60" x2="366.40" y2="465.80" stroke="#111" stroke-width="1.1"/>
<text x="366.40" y="474.50" font-size="6.3" fill="#333" text-anchor="middle" textLength="6.50" lengthAdjust="spacingAndGlyphs">12</text>
<line x1="381.20" y1="462.60" x2="381.20" y2="465.80" stroke="#111" stroke-width="1.1"/>
<text x="381.20" y="474.50" font-size="6.3" fill="#333" text-anchor="middle" textLength="6.50" lengthAdjust="spacingAndGlyphs">15</text>
<line x1="396.00" y1="462.60" x2="396.00" y2="465.80" stroke="#111" stroke-width="1.1"/>
<text x="396.00" y="474.50" font-size="6.3" fill="#333" text-anchor="middle" textLength="6.50" lengthAdjust="spacingAndGlyphs">18</text>
<line x1="410.80" y1="462.60" x2="410.80" y2="465.80" stroke="#111" stroke-width="1.1"/>
<text x="410.80" y="474.50" font-size="6.3" fill="#333" text-anchor="middle" textLength="6.50" lengthAdjust="spacingAndGlyphs">21</text>
<line x1="425.60" y1="462.60" x2="425.60" y2="465.80" stroke="#111" stroke-width="1.1"/>
<text x="425.60" y="474.50" font-size="6.3" fill="#333" text-anchor="middle" textLength="6.50" lengthAdjust="spacingAndGlyphs">24</text>
<line x1="440.40" y1="462.60" x2="440.40" y2="465.80" stroke="#111" stroke-width="1.1"/>
<text x="440.40" y="474.50" font-size="6.3" fill="#333" text-anchor="middle" textLength="6.50" lengthAdjust="spacingAndGlyphs">27</text>
<line x1="455.20" y1="462.60" x2="455.20" y2="465.80" stroke="#111" stroke-width="1.1"/>
<text x="455.20" y="474.50" font-size="6.3" fill="#333" text-anchor="middle" textLength="6.50" lengthAdjust="spacingAndGlyphs">30</text>
<line x1="470.00" y1="462.60" x2="470.00" y2="465.80" stroke="#111" stroke-width="1.1"/>
<text x="470.00" y="474.50" font-size="6.3" fill="#333" text-anchor="middle" textLength="6.50" lengthAdjust="spacingAndGlyphs">33</text>
<line x1="484.80" y1="462.60" x2="484.80" y2="465.80" stroke="#111" stroke-width="1.1"/>
<text x="484.80" y="474.50" font-size="6.3" fill="#333" text-anchor="middle" textLength="6.50" lengthAdjust="spacingAndGlyphs">36</text>
<line x1="499.60" y1="462.60" x2="499.60" y2="465.80" stroke="#111" stroke-width="1.1"/>
<text x="499.60" y="474.50" font-size="6.3" fill="#333" text-anchor="middle" textLength="6.50" lengthAdjust="spacingAndGlyphs">39</text>
<line x1="514.40" y1="462.60" x2="514.40" y2="465.80" stroke="#111" stroke-width="1.1"/>
<text x="514.40" y="474.50" font-size="6.3" fill="#333" text-anchor="middle" textLength="6.50" lengthAdjust="spacingAndGlyphs">42</text>
<text x="280.80" y="424.80" font-size="6.9" fill="#444" text-anchor="middle" textLength="68.00" lengthAdjust="spacingAndGlyphs" transform="rotate(-90 280.80 424.80)">Probability of no event</text>
<text x="411.10" y="486.60" font-size="8.4" fill="#222" text-anchor="middle" textLength="23.20" lengthAdjust="spacingAndGlyphs" stroke="#222" stroke-width="0.12">Months</text>
<text x="305.00" y="460.20" font-size="7.4" fill="#333" textLength="38.60" lengthAdjust="spacingAndGlyphs">+ Censored</text>
<line x1="427.20" y1="390.90" x2="447.40" y2="390.90" stroke="#4ea24e" stroke-width="1.15"/>
<text x="452.80" y="392.80" font-size="5.4" fill="#333333">NPM1</text>
<text x="475.70" y="392.80" font-size="5.4" fill="#333333">25.3 (9.9, -)</text>
<line x1="427.20" y1="398.80" x2="447.40" y2="398.80" stroke="#b31a40" stroke-width="1.15"/>
<text x="452.80" y="400.70" font-size="5.4" fill="#333333">IDH1/2</text>
<text x="475.70" y="400.70" font-size="5.4" fill="#333333" textLength="36.30" lengthAdjust="spacingAndGlyphs">11.2 (3.4, 23.6)</text>
<line x1="427.20" y1="406.70" x2="447.40" y2="406.70" stroke="#f0a22a" stroke-width="1.15"/>
<text x="452.80" y="408.60" font-size="5.4" fill="#333333">FLT3</text>
<text x="475.70" y="408.60" font-size="5.4" fill="#333333">5.9 (1.6, 20.8)</text>
<line x1="427.20" y1="414.40" x2="447.40" y2="414.40" stroke="#2f5d9e" stroke-width="1.15"/>
<text x="452.80" y="416.30" font-size="5.4" fill="#333333">TP53</text>
<text x="475.70" y="416.30" font-size="5.4" fill="#333333">2.8 (2.1, 3.6)</text>
<polyline points="308.50,389.20 310.80,389.50 311.50,393.00 316.90,393.50 317.70,397.60 342.30,397.60 343.80,401.50 349.20,401.50 350.00,405.30 356.20,405.30 357.70,409.20 360.80,409.50 362.30,413.00 410.40,413.20 411.10,417.30 424.80,417.60 425.50,421.90 432.00,422.20 432.70,426.70 453.90,427.00 454.40,433.50 484.00,433.50 484.70,440.40 511.40,440.40" fill="none" stroke="#4ea24e" stroke-width="1.2" stroke-linejoin="miter"/>
<polyline points="308.50,389.20 311.50,395.30 315.40,403.00 319.20,412.20 320.00,415.30 326.20,416.10 332.30,416.80 336.90,419.20 336.90,427.60 349.20,427.60 350.00,432.20 361.50,432.20 362.30,436.10 409.60,436.10 411.10,440.40 424.80,440.80 425.50,446.00 495.50,446.00" fill="none" stroke="#f0a22a" stroke-width="1.2" stroke-linejoin="miter"/>
<polyline points="308.50,389.20 310.80,393.80 313.80,398.40 316.90,402.20 319.20,406.10 324.60,406.10 325.40,410.00 328.50,410.00 329.20,413.80 332.30,414.50 333.10,416.80 338.50,417.20 339.20,420.70 360.80,421.20 362.30,424.50 363.80,428.40 370.80,428.80 371.50,432.00 410.40,432.00 411.10,434.90 424.10,435.40 425.50,439.70 426.20,443.00 432.70,443.30 433.40,446.90 437.00,448.30 437.70,452.20 484.00,452.20" fill="none" stroke="#b31a40" stroke-width="1.2" stroke-linejoin="miter"/>
<polyline points="308.50,389.20 310.80,395.30 313.80,399.90 316.90,403.80 320.00,412.20 321.50,419.90 323.10,427.60 324.60,430.70 325.40,439.90 330.80,440.20 332.30,443.00 340.80,443.30 341.50,446.10 345.40,446.40 346.20,449.90 366.20,450.20 366.90,453.60 391.60,453.70 392.30,457.40 427.00,457.40 427.70,459.20" fill="none" stroke="#2f5d9e" stroke-width="1.2" stroke-linejoin="miter"/>
<line x1="342.00" y1="396.30" x2="342.00" y2="398.90" stroke="#333" stroke-width="0.8" stroke-opacity="0.75"/>
<line x1="411.50" y1="416.00" x2="411.50" y2="418.60" stroke="#333" stroke-width="0.8" stroke-opacity="0.75"/>
<line x1="436.00" y1="425.50" x2="436.00" y2="428.10" stroke="#333" stroke-width="0.8" stroke-opacity="0.75"/>
<line x1="447.00" y1="425.60" x2="447.00" y2="428.20" stroke="#333" stroke-width="0.8" stroke-opacity="0.75"/>
<line x1="455.00" y1="432.20" x2="455.00" y2="434.80" stroke="#333" stroke-width="0.8" stroke-opacity="0.75"/>
<line x1="486.00" y1="439.10" x2="486.00" y2="441.70" stroke="#333" stroke-width="0.8" stroke-opacity="0.75"/>
<line x1="495.00" y1="439.10" x2="495.00" y2="441.70" stroke="#333" stroke-width="0.8" stroke-opacity="0.75"/>
<line x1="511.00" y1="439.10" x2="511.00" y2="441.70" stroke="#333" stroke-width="0.8" stroke-opacity="0.75"/>
<line x1="396.00" y1="434.80" x2="396.00" y2="437.40" stroke="#333" stroke-width="0.8" stroke-opacity="0.75"/>
<line x1="479.00" y1="444.70" x2="479.00" y2="447.30" stroke="#333" stroke-width="0.8" stroke-opacity="0.75"/>
<line x1="494.00" y1="444.70" x2="494.00" y2="447.30" stroke="#333" stroke-width="0.8" stroke-opacity="0.75"/>
<line x1="420.00" y1="433.90" x2="420.00" y2="436.50" stroke="#333" stroke-width="0.8" stroke-opacity="0.75"/>
<line x1="462.00" y1="450.90" x2="462.00" y2="453.50" stroke="#333" stroke-width="0.8" stroke-opacity="0.75"/>
<line x1="483.00" y1="450.90" x2="483.00" y2="453.50" stroke="#333" stroke-width="0.8" stroke-opacity="0.75"/>
<text x="280.20" y="496.60" font-size="5.6" fill="#222" textLength="36.30" lengthAdjust="spacingAndGlyphs">Patients at Risk</text>
<text x="280.20" y="504.20" font-size="5.5" fill="#4ea24e" textLength="13.00" lengthAdjust="spacingAndGlyphs">NPM1</text>
<text x="307.20" y="504.40" font-size="6.3" fill="#4ea24e" text-anchor="middle" textLength="5.70" lengthAdjust="spacingAndGlyphs">19</text>
<text x="322.00" y="504.40" font-size="6.3" fill="#4ea24e" text-anchor="middle" textLength="5.70" lengthAdjust="spacingAndGlyphs">16</text>
<text x="336.80" y="504.40" font-size="6.3" fill="#4ea24e" text-anchor="middle" textLength="5.70" lengthAdjust="spacingAndGlyphs">16</text>
<text x="351.60" y="504.40" font-size="6.3" fill="#4ea24e" text-anchor="middle" textLength="5.70" lengthAdjust="spacingAndGlyphs">14</text>
<text x="366.40" y="504.40" font-size="6.3" fill="#4ea24e" text-anchor="middle" textLength="5.70" lengthAdjust="spacingAndGlyphs">12</text>
<text x="381.20" y="504.40" font-size="6.3" fill="#4ea24e" text-anchor="middle" textLength="5.70" lengthAdjust="spacingAndGlyphs">12</text>
<text x="396.00" y="504.40" font-size="6.3" fill="#4ea24e" text-anchor="middle" textLength="5.70" lengthAdjust="spacingAndGlyphs">11</text>
<text x="410.80" y="504.40" font-size="6.3" fill="#4ea24e" text-anchor="middle" textLength="5.70" lengthAdjust="spacingAndGlyphs">10</text>
<text x="425.60" y="504.40" font-size="6.3" fill="#4ea24e" text-anchor="middle" textLength="2.85" lengthAdjust="spacingAndGlyphs">8</text>
<text x="440.40" y="504.40" font-size="6.3" fill="#4ea24e" text-anchor="middle" textLength="2.85" lengthAdjust="spacingAndGlyphs">7</text>
<text x="455.20" y="504.40" font-size="6.3" fill="#4ea24e" text-anchor="middle" textLength="2.85" lengthAdjust="spacingAndGlyphs">4</text>
<text x="470.00" y="504.40" font-size="6.3" fill="#4ea24e" text-anchor="middle" textLength="2.85" lengthAdjust="spacingAndGlyphs">4</text>
<text x="484.80" y="504.40" font-size="6.3" fill="#4ea24e" text-anchor="middle" textLength="2.85" lengthAdjust="spacingAndGlyphs">3</text>
<text x="499.60" y="504.40" font-size="6.3" fill="#4ea24e" text-anchor="middle" textLength="2.85" lengthAdjust="spacingAndGlyphs">1</text>
<text x="514.40" y="504.40" font-size="6.3" fill="#4ea24e" text-anchor="middle" textLength="2.85" lengthAdjust="spacingAndGlyphs">0</text>
<text x="280.20" y="511.00" font-size="5.5" fill="#b31a40" textLength="16.00" lengthAdjust="spacingAndGlyphs">IDH1/2</text>
<text x="307.20" y="511.20" font-size="6.3" fill="#b31a40" text-anchor="middle" textLength="5.70" lengthAdjust="spacingAndGlyphs">21</text>
<text x="322.00" y="511.20" font-size="6.3" fill="#b31a40" text-anchor="middle" textLength="5.70" lengthAdjust="spacingAndGlyphs">15</text>
<text x="336.80" y="511.20" font-size="6.3" fill="#b31a40" text-anchor="middle" textLength="5.70" lengthAdjust="spacingAndGlyphs">12</text>
<text x="351.60" y="511.20" font-size="6.3" fill="#b31a40" text-anchor="middle" textLength="5.70" lengthAdjust="spacingAndGlyphs">11</text>
<text x="366.40" y="511.20" font-size="6.3" fill="#b31a40" text-anchor="middle" textLength="2.85" lengthAdjust="spacingAndGlyphs">9</text>
<text x="381.20" y="511.20" font-size="6.3" fill="#b31a40" text-anchor="middle" textLength="2.85" lengthAdjust="spacingAndGlyphs">8</text>
<text x="396.00" y="511.20" font-size="6.3" fill="#b31a40" text-anchor="middle" textLength="2.85" lengthAdjust="spacingAndGlyphs">8</text>
<text x="410.80" y="511.20" font-size="6.3" fill="#b31a40" text-anchor="middle" textLength="2.85" lengthAdjust="spacingAndGlyphs">7</text>
<text x="425.60" y="511.20" font-size="6.3" fill="#b31a40" text-anchor="middle" textLength="2.85" lengthAdjust="spacingAndGlyphs">4</text>
<text x="440.40" y="511.20" font-size="6.3" fill="#b31a40" text-anchor="middle" textLength="2.85" lengthAdjust="spacingAndGlyphs">2</text>
<text x="455.20" y="511.20" font-size="6.3" fill="#b31a40" text-anchor="middle" textLength="2.85" lengthAdjust="spacingAndGlyphs">1</text>
<text x="470.00" y="511.20" font-size="6.3" fill="#b31a40" text-anchor="middle" textLength="2.85" lengthAdjust="spacingAndGlyphs">1</text>
<text x="484.80" y="511.20" font-size="6.3" fill="#b31a40" text-anchor="middle" textLength="2.85" lengthAdjust="spacingAndGlyphs">0</text>
<text x="499.60" y="511.20" font-size="6.3" fill="#b31a40" text-anchor="middle" textLength="2.85" lengthAdjust="spacingAndGlyphs">0</text>
<text x="514.40" y="511.20" font-size="6.3" fill="#b31a40" text-anchor="middle" textLength="2.85" lengthAdjust="spacingAndGlyphs">0</text>
<text x="280.20" y="518.50" font-size="5.5" fill="#f0a22a" textLength="12.00" lengthAdjust="spacingAndGlyphs">FLT3</text>
<text x="307.20" y="518.70" font-size="6.3" fill="#f0a22a" text-anchor="middle" textLength="5.70" lengthAdjust="spacingAndGlyphs">20</text>
<text x="322.00" y="518.70" font-size="6.3" fill="#f0a22a" text-anchor="middle" textLength="5.70" lengthAdjust="spacingAndGlyphs">11</text>
<text x="336.80" y="518.70" font-size="6.3" fill="#f0a22a" text-anchor="middle" textLength="2.85" lengthAdjust="spacingAndGlyphs">8</text>
<text x="351.60" y="518.70" font-size="6.3" fill="#f0a22a" text-anchor="middle" textLength="2.85" lengthAdjust="spacingAndGlyphs">7</text>
<text x="366.40" y="518.70" font-size="6.3" fill="#f0a22a" text-anchor="middle" textLength="2.85" lengthAdjust="spacingAndGlyphs">6</text>
<text x="381.20" y="518.70" font-size="6.3" fill="#f0a22a" text-anchor="middle" textLength="2.85" lengthAdjust="spacingAndGlyphs">6</text>
<text x="396.00" y="518.70" font-size="6.3" fill="#f0a22a" text-anchor="middle" textLength="2.85" lengthAdjust="spacingAndGlyphs">5</text>
<text x="410.80" y="518.70" font-size="6.3" fill="#f0a22a" text-anchor="middle" textLength="2.85" lengthAdjust="spacingAndGlyphs">4</text>
<text x="425.60" y="518.70" font-size="6.3" fill="#f0a22a" text-anchor="middle" textLength="2.85" lengthAdjust="spacingAndGlyphs">3</text>
<text x="440.40" y="518.70" font-size="6.3" fill="#f0a22a" text-anchor="middle" textLength="2.85" lengthAdjust="spacingAndGlyphs">3</text>
<text x="455.20" y="518.70" font-size="6.3" fill="#f0a22a" text-anchor="middle" textLength="2.85" lengthAdjust="spacingAndGlyphs">1</text>
<text x="470.00" y="518.70" font-size="6.3" fill="#f0a22a" text-anchor="middle" textLength="2.85" lengthAdjust="spacingAndGlyphs">1</text>
<text x="484.80" y="518.70" font-size="6.3" fill="#f0a22a" text-anchor="middle" textLength="2.85" lengthAdjust="spacingAndGlyphs">1</text>
<text x="499.60" y="518.70" font-size="6.3" fill="#f0a22a" text-anchor="middle" textLength="2.85" lengthAdjust="spacingAndGlyphs">0</text>
<text x="514.40" y="518.70" font-size="6.3" fill="#f0a22a" text-anchor="middle" textLength="2.85" lengthAdjust="spacingAndGlyphs">0</text>
<text x="280.20" y="525.30" font-size="5.5" fill="#2f5d9e" textLength="13.00" lengthAdjust="spacingAndGlyphs">TP53</text>
<text x="307.20" y="525.50" font-size="6.3" fill="#2f5d9e" text-anchor="middle" textLength="5.70" lengthAdjust="spacingAndGlyphs">21</text>
<text x="322.00" y="525.50" font-size="6.3" fill="#2f5d9e" text-anchor="middle" textLength="2.85" lengthAdjust="spacingAndGlyphs">9</text>
<text x="336.80" y="525.50" font-size="6.3" fill="#2f5d9e" text-anchor="middle" textLength="2.85" lengthAdjust="spacingAndGlyphs">5</text>
<text x="351.60" y="525.50" font-size="6.3" fill="#2f5d9e" text-anchor="middle" textLength="2.85" lengthAdjust="spacingAndGlyphs">3</text>
<text x="366.40" y="525.50" font-size="6.3" fill="#2f5d9e" text-anchor="middle" textLength="2.85" lengthAdjust="spacingAndGlyphs">2</text>
<text x="381.20" y="525.50" font-size="6.3" fill="#2f5d9e" text-anchor="middle" textLength="2.85" lengthAdjust="spacingAndGlyphs">2</text>
<text x="396.00" y="525.50" font-size="6.3" fill="#2f5d9e" text-anchor="middle" textLength="2.85" lengthAdjust="spacingAndGlyphs">1</text>
<text x="410.80" y="525.50" font-size="6.3" fill="#2f5d9e" text-anchor="middle" textLength="2.85" lengthAdjust="spacingAndGlyphs">1</text>
<text x="425.60" y="525.50" font-size="6.3" fill="#2f5d9e" text-anchor="middle" textLength="2.85" lengthAdjust="spacingAndGlyphs">1</text>
<text x="440.40" y="525.50" font-size="6.3" fill="#2f5d9e" text-anchor="middle" textLength="2.85" lengthAdjust="spacingAndGlyphs">0</text>
<text x="455.20" y="525.50" font-size="6.3" fill="#2f5d9e" text-anchor="middle" textLength="2.85" lengthAdjust="spacingAndGlyphs">0</text>
<text x="470.00" y="525.50" font-size="6.3" fill="#2f5d9e" text-anchor="middle" textLength="2.85" lengthAdjust="spacingAndGlyphs">0</text>
<text x="484.80" y="525.50" font-size="6.3" fill="#2f5d9e" text-anchor="middle" textLength="2.85" lengthAdjust="spacingAndGlyphs">0</text>
<text x="499.60" y="525.50" font-size="6.3" fill="#2f5d9e" text-anchor="middle" textLength="2.85" lengthAdjust="spacingAndGlyphs">0</text>
<text x="514.40" y="525.50" font-size="6.3" fill="#2f5d9e" text-anchor="middle" textLength="2.85" lengthAdjust="spacingAndGlyphs">0</text>
</svg></body></html>
